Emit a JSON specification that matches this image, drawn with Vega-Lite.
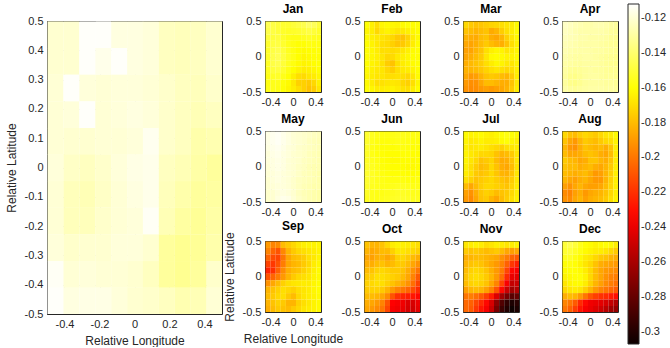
{
"$schema":"https://vega.github.io/schema/vega-lite/v6.json",
"background":"white",
"padding":{"left":4,"top":2,"right":0,"bottom":0},
"config":{
"locale":{"number":{"decimal":".","thousands":",","grouping":[3],"currency":["$",""],"minus":"-"}},
"view":{"stroke":"#262626","strokeWidth":1},
"font":"Liberation Sans",
"axis":{"labelFont":"Liberation Sans","labelFontSize":11,"labelColor":"#262626","titleFont":"Liberation Sans","titleFontSize":12,"titleFontWeight":"normal","titleColor":"#262626","grid":true,"gridColor":"#262626","gridOpacity":0.15,"domain":false,"ticks":true,"tickColor":"#262626","tickSize":-3,"labelPadding":7,"titlePadding":6,"zindex":1,"format":"~g","labelFlush":false,"labelOverlap":false},
"title":{"font":"Liberation Sans","fontSize":12,"fontWeight":"bold","color":"#000000","offset":-1,"frame":"group"},
"legend":{"gradientLength":340,"gradientThickness":11,"gradientStrokeColor":"#262626","gradientStrokeWidth":1,"labelFont":"Liberation Sans","labelFontSize":11,"labelColor":"#262626","labelOffset":4,"padding":0}
},
"datasets":{
"mean":[
{"x":-0.5,"y":0.409,"v":-0.121},{"x":-0.409,"y":0.409,"v":-0.121},{"x":-0.318,"y":0.409,"v":-0.113},{"x":-0.227,"y":0.409,"v":-0.113},{"x":-0.136,"y":0.409,"v":-0.118},{"x":-0.045,"y":0.409,"v":-0.118},{"x":0.045,"y":0.409,"v":-0.119},{"x":0.136,"y":0.409,"v":-0.124},{"x":0.227,"y":0.409,"v":-0.125},{"x":0.318,"y":0.409,"v":-0.124},{"x":0.409,"y":0.409,"v":-0.121},
{"x":-0.5,"y":0.318,"v":-0.121},{"x":-0.409,"y":0.318,"v":-0.121},{"x":-0.318,"y":0.318,"v":-0.113},{"x":-0.227,"y":0.318,"v":-0.116},{"x":-0.136,"y":0.318,"v":-0.113},{"x":-0.045,"y":0.318,"v":-0.118},{"x":0.045,"y":0.318,"v":-0.119},{"x":0.136,"y":0.318,"v":-0.124},{"x":0.227,"y":0.318,"v":-0.125},{"x":0.318,"y":0.318,"v":-0.124},{"x":0.409,"y":0.318,"v":-0.121},
{"x":-0.5,"y":0.227,"v":-0.12},{"x":-0.409,"y":0.227,"v":-0.113},{"x":-0.318,"y":0.227,"v":-0.119},{"x":-0.227,"y":0.227,"v":-0.12},{"x":-0.136,"y":0.227,"v":-0.119},{"x":-0.045,"y":0.227,"v":-0.119},{"x":0.045,"y":0.227,"v":-0.12},{"x":0.136,"y":0.227,"v":-0.122},{"x":0.227,"y":0.227,"v":-0.124},{"x":0.318,"y":0.227,"v":-0.125},{"x":0.409,"y":0.227,"v":-0.122},
{"x":-0.5,"y":0.136,"v":-0.12},{"x":-0.409,"y":0.136,"v":-0.119},{"x":-0.318,"y":0.136,"v":-0.113},{"x":-0.227,"y":0.136,"v":-0.12},{"x":-0.136,"y":0.136,"v":-0.119},{"x":-0.045,"y":0.136,"v":-0.118},{"x":0.045,"y":0.136,"v":-0.119},{"x":0.136,"y":0.136,"v":-0.122},{"x":0.227,"y":0.136,"v":-0.124},{"x":0.318,"y":0.136,"v":-0.126},{"x":0.409,"y":0.136,"v":-0.124},
{"x":-0.5,"y":0.045,"v":-0.12},{"x":-0.409,"y":0.045,"v":-0.121},{"x":-0.318,"y":0.045,"v":-0.121},{"x":-0.227,"y":0.045,"v":-0.12},{"x":-0.136,"y":0.045,"v":-0.12},{"x":-0.045,"y":0.045,"v":-0.119},{"x":0.045,"y":0.045,"v":-0.115},{"x":0.136,"y":0.045,"v":-0.122},{"x":0.227,"y":0.045,"v":-0.124},{"x":0.318,"y":0.045,"v":-0.128},{"x":0.409,"y":0.045,"v":-0.127},
{"x":-0.5,"y":-0.045,"v":-0.119},{"x":-0.409,"y":-0.045,"v":-0.123},{"x":-0.318,"y":-0.045,"v":-0.124},{"x":-0.227,"y":-0.045,"v":-0.122},{"x":-0.136,"y":-0.045,"v":-0.119},{"x":-0.045,"y":-0.045,"v":-0.117},{"x":0.045,"y":-0.045,"v":-0.116},{"x":0.136,"y":-0.045,"v":-0.124},{"x":0.227,"y":-0.045,"v":-0.126},{"x":0.318,"y":-0.045,"v":-0.129},{"x":0.409,"y":-0.045,"v":-0.131},
{"x":-0.5,"y":-0.136,"v":-0.12},{"x":-0.409,"y":-0.136,"v":-0.125},{"x":-0.318,"y":-0.136,"v":-0.126},{"x":-0.227,"y":-0.136,"v":-0.123},{"x":-0.136,"y":-0.136,"v":-0.12},{"x":-0.045,"y":-0.136,"v":-0.118},{"x":0.045,"y":-0.136,"v":-0.116},{"x":0.136,"y":-0.136,"v":-0.125},{"x":0.227,"y":-0.136,"v":-0.128},{"x":0.318,"y":-0.136,"v":-0.131},{"x":0.409,"y":-0.136,"v":-0.13},
{"x":-0.5,"y":-0.227,"v":-0.12},{"x":-0.409,"y":-0.227,"v":-0.125},{"x":-0.318,"y":-0.227,"v":-0.125},{"x":-0.227,"y":-0.227,"v":-0.122},{"x":-0.136,"y":-0.227,"v":-0.12},{"x":-0.045,"y":-0.227,"v":-0.119},{"x":0.045,"y":-0.227,"v":-0.114},{"x":0.136,"y":-0.227,"v":-0.126},{"x":0.227,"y":-0.227,"v":-0.13},{"x":0.318,"y":-0.227,"v":-0.132},{"x":0.409,"y":-0.227,"v":-0.129},
{"x":-0.5,"y":-0.318,"v":-0.119},{"x":-0.409,"y":-0.318,"v":-0.122},{"x":-0.318,"y":-0.318,"v":-0.121},{"x":-0.227,"y":-0.318,"v":-0.121},{"x":-0.136,"y":-0.318,"v":-0.119},{"x":-0.045,"y":-0.318,"v":-0.119},{"x":0.045,"y":-0.318,"v":-0.121},{"x":0.136,"y":-0.318,"v":-0.131},{"x":0.227,"y":-0.318,"v":-0.133},{"x":0.318,"y":-0.318,"v":-0.132},{"x":0.409,"y":-0.318,"v":-0.128},
{"x":-0.5,"y":-0.409,"v":-0.114},{"x":-0.409,"y":-0.409,"v":-0.12},{"x":-0.318,"y":-0.409,"v":-0.119},{"x":-0.227,"y":-0.409,"v":-0.12},{"x":-0.136,"y":-0.409,"v":-0.12},{"x":-0.045,"y":-0.409,"v":-0.121},{"x":0.045,"y":-0.409,"v":-0.124},{"x":0.136,"y":-0.409,"v":-0.131},{"x":0.227,"y":-0.409,"v":-0.133},{"x":0.318,"y":-0.409,"v":-0.131},{"x":0.409,"y":-0.409,"v":-0.122},
{"x":-0.5,"y":-0.5,"v":-0.113},{"x":-0.409,"y":-0.5,"v":-0.118},{"x":-0.318,"y":-0.5,"v":-0.117},{"x":-0.227,"y":-0.5,"v":-0.117},{"x":-0.136,"y":-0.5,"v":-0.119},{"x":-0.045,"y":-0.5,"v":-0.121},{"x":0.045,"y":-0.5,"v":-0.122},{"x":0.136,"y":-0.5,"v":-0.124},{"x":0.227,"y":-0.5,"v":-0.127},{"x":0.318,"y":-0.5,"v":-0.126},{"x":0.409,"y":-0.5,"v":-0.12}
],
"Jan":[
{"x":-0.5,"y":0.409,"v":-0.145},{"x":-0.409,"y":0.409,"v":-0.148},{"x":-0.318,"y":0.409,"v":-0.15},{"x":-0.227,"y":0.409,"v":-0.152},{"x":-0.136,"y":0.409,"v":-0.152},{"x":-0.045,"y":0.409,"v":-0.15},{"x":0.045,"y":0.409,"v":-0.148},{"x":0.136,"y":0.409,"v":-0.146},{"x":0.227,"y":0.409,"v":-0.142},{"x":0.318,"y":0.409,"v":-0.144},{"x":0.409,"y":0.409,"v":-0.15},
{"x":-0.5,"y":0.318,"v":-0.147},{"x":-0.409,"y":0.318,"v":-0.148},{"x":-0.318,"y":0.318,"v":-0.15},{"x":-0.227,"y":0.318,"v":-0.153},{"x":-0.136,"y":0.318,"v":-0.154},{"x":-0.045,"y":0.318,"v":-0.153},{"x":0.045,"y":0.318,"v":-0.152},{"x":0.136,"y":0.318,"v":-0.15},{"x":0.227,"y":0.318,"v":-0.148},{"x":0.318,"y":0.318,"v":-0.15},{"x":0.409,"y":0.318,"v":-0.153},
{"x":-0.5,"y":0.227,"v":-0.15},{"x":-0.409,"y":0.227,"v":-0.15},{"x":-0.318,"y":0.227,"v":-0.149},{"x":-0.227,"y":0.227,"v":-0.153},{"x":-0.136,"y":0.227,"v":-0.156},{"x":-0.045,"y":0.227,"v":-0.157},{"x":0.045,"y":0.227,"v":-0.157},{"x":0.136,"y":0.227,"v":-0.155},{"x":0.227,"y":0.227,"v":-0.154},{"x":0.318,"y":0.227,"v":-0.155},{"x":0.409,"y":0.227,"v":-0.156},
{"x":-0.5,"y":0.136,"v":-0.152},{"x":-0.409,"y":0.136,"v":-0.149},{"x":-0.318,"y":0.136,"v":-0.148},{"x":-0.227,"y":0.136,"v":-0.152},{"x":-0.136,"y":0.136,"v":-0.156},{"x":-0.045,"y":0.136,"v":-0.158},{"x":0.045,"y":0.136,"v":-0.16},{"x":0.136,"y":0.136,"v":-0.16},{"x":0.227,"y":0.136,"v":-0.158},{"x":0.318,"y":0.136,"v":-0.158},{"x":0.409,"y":0.136,"v":-0.158},
{"x":-0.5,"y":0.045,"v":-0.153},{"x":-0.409,"y":0.045,"v":-0.148},{"x":-0.318,"y":0.045,"v":-0.146},{"x":-0.227,"y":0.045,"v":-0.15},{"x":-0.136,"y":0.045,"v":-0.155},{"x":-0.045,"y":0.045,"v":-0.158},{"x":0.045,"y":0.045,"v":-0.161},{"x":0.136,"y":0.045,"v":-0.162},{"x":0.227,"y":0.045,"v":-0.161},{"x":0.318,"y":0.045,"v":-0.16},{"x":0.409,"y":0.045,"v":-0.159},
{"x":-0.5,"y":-0.045,"v":-0.153},{"x":-0.409,"y":-0.045,"v":-0.147},{"x":-0.318,"y":-0.045,"v":-0.145},{"x":-0.227,"y":-0.045,"v":-0.149},{"x":-0.136,"y":-0.045,"v":-0.154},{"x":-0.045,"y":-0.045,"v":-0.157},{"x":0.045,"y":-0.045,"v":-0.161},{"x":0.136,"y":-0.045,"v":-0.163},{"x":0.227,"y":-0.045,"v":-0.162},{"x":0.318,"y":-0.045,"v":-0.16},{"x":0.409,"y":-0.045,"v":-0.16},
{"x":-0.5,"y":-0.136,"v":-0.154},{"x":-0.409,"y":-0.136,"v":-0.148},{"x":-0.318,"y":-0.136,"v":-0.146},{"x":-0.227,"y":-0.136,"v":-0.15},{"x":-0.136,"y":-0.136,"v":-0.155},{"x":-0.045,"y":-0.136,"v":-0.158},{"x":0.045,"y":-0.136,"v":-0.162},{"x":0.136,"y":-0.136,"v":-0.164},{"x":0.227,"y":-0.136,"v":-0.163},{"x":0.318,"y":-0.136,"v":-0.161},{"x":0.409,"y":-0.136,"v":-0.16},
{"x":-0.5,"y":-0.227,"v":-0.155},{"x":-0.409,"y":-0.227,"v":-0.15},{"x":-0.318,"y":-0.227,"v":-0.149},{"x":-0.227,"y":-0.227,"v":-0.152},{"x":-0.136,"y":-0.227,"v":-0.157},{"x":-0.045,"y":-0.227,"v":-0.161},{"x":0.045,"y":-0.227,"v":-0.164},{"x":0.136,"y":-0.227,"v":-0.166},{"x":0.227,"y":-0.227,"v":-0.165},{"x":0.318,"y":-0.227,"v":-0.163},{"x":0.409,"y":-0.227,"v":-0.161},
{"x":-0.5,"y":-0.318,"v":-0.157},{"x":-0.409,"y":-0.318,"v":-0.154},{"x":-0.318,"y":-0.318,"v":-0.153},{"x":-0.227,"y":-0.318,"v":-0.156},{"x":-0.136,"y":-0.318,"v":-0.16},{"x":-0.045,"y":-0.318,"v":-0.165},{"x":0.045,"y":-0.318,"v":-0.17},{"x":0.136,"y":-0.318,"v":-0.171},{"x":0.227,"y":-0.318,"v":-0.168},{"x":0.318,"y":-0.318,"v":-0.166},{"x":0.409,"y":-0.318,"v":-0.163},
{"x":-0.5,"y":-0.409,"v":-0.158},{"x":-0.409,"y":-0.409,"v":-0.156},{"x":-0.318,"y":-0.409,"v":-0.156},{"x":-0.227,"y":-0.409,"v":-0.159},{"x":-0.136,"y":-0.409,"v":-0.162},{"x":-0.045,"y":-0.409,"v":-0.167},{"x":0.045,"y":-0.409,"v":-0.174},{"x":0.136,"y":-0.409,"v":-0.174},{"x":0.227,"y":-0.409,"v":-0.176},{"x":0.318,"y":-0.409,"v":-0.172},{"x":0.409,"y":-0.409,"v":-0.165},
{"x":-0.5,"y":-0.5,"v":-0.157},{"x":-0.409,"y":-0.5,"v":-0.156},{"x":-0.318,"y":-0.5,"v":-0.157},{"x":-0.227,"y":-0.5,"v":-0.16},{"x":-0.136,"y":-0.5,"v":-0.163},{"x":-0.045,"y":-0.5,"v":-0.166},{"x":0.045,"y":-0.5,"v":-0.17},{"x":0.136,"y":-0.5,"v":-0.174},{"x":0.227,"y":-0.5,"v":-0.178},{"x":0.318,"y":-0.5,"v":-0.175},{"x":0.409,"y":-0.5,"v":-0.168}
],
"Feb":[
{"x":-0.5,"y":0.409,"v":-0.16},{"x":-0.409,"y":0.409,"v":-0.165},{"x":-0.318,"y":0.409,"v":-0.17},{"x":-0.227,"y":0.409,"v":-0.163},{"x":-0.136,"y":0.409,"v":-0.162},{"x":-0.045,"y":0.409,"v":-0.163},{"x":0.045,"y":0.409,"v":-0.164},{"x":0.136,"y":0.409,"v":-0.162},{"x":0.227,"y":0.409,"v":-0.16},{"x":0.318,"y":0.409,"v":-0.161},{"x":0.409,"y":0.409,"v":-0.16},
{"x":-0.5,"y":0.318,"v":-0.163},{"x":-0.409,"y":0.318,"v":-0.166},{"x":-0.318,"y":0.318,"v":-0.172},{"x":-0.227,"y":0.318,"v":-0.166},{"x":-0.136,"y":0.318,"v":-0.164},{"x":-0.045,"y":0.318,"v":-0.166},{"x":0.045,"y":0.318,"v":-0.168},{"x":0.136,"y":0.318,"v":-0.167},{"x":0.227,"y":0.318,"v":-0.165},{"x":0.318,"y":0.318,"v":-0.163},{"x":0.409,"y":0.318,"v":-0.161},
{"x":-0.5,"y":0.227,"v":-0.162},{"x":-0.409,"y":0.227,"v":-0.165},{"x":-0.318,"y":0.227,"v":-0.167},{"x":-0.227,"y":0.227,"v":-0.168},{"x":-0.136,"y":0.227,"v":-0.17},{"x":-0.045,"y":0.227,"v":-0.172},{"x":0.045,"y":0.227,"v":-0.176},{"x":0.136,"y":0.227,"v":-0.178},{"x":0.227,"y":0.227,"v":-0.173},{"x":0.318,"y":0.227,"v":-0.166},{"x":0.409,"y":0.227,"v":-0.162},
{"x":-0.5,"y":0.136,"v":-0.161},{"x":-0.409,"y":0.136,"v":-0.164},{"x":-0.318,"y":0.136,"v":-0.167},{"x":-0.227,"y":0.136,"v":-0.17},{"x":-0.136,"y":0.136,"v":-0.171},{"x":-0.045,"y":0.136,"v":-0.174},{"x":0.045,"y":0.136,"v":-0.177},{"x":0.136,"y":0.136,"v":-0.176},{"x":0.227,"y":0.136,"v":-0.172},{"x":0.318,"y":0.136,"v":-0.166},{"x":0.409,"y":0.136,"v":-0.161},
{"x":-0.5,"y":0.045,"v":-0.16},{"x":-0.409,"y":0.045,"v":-0.163},{"x":-0.318,"y":0.045,"v":-0.166},{"x":-0.227,"y":0.045,"v":-0.17},{"x":-0.136,"y":0.045,"v":-0.17},{"x":-0.045,"y":0.045,"v":-0.171},{"x":0.045,"y":0.045,"v":-0.17},{"x":0.136,"y":0.045,"v":-0.168},{"x":0.227,"y":0.045,"v":-0.165},{"x":0.318,"y":0.045,"v":-0.162},{"x":0.409,"y":0.045,"v":-0.16},
{"x":-0.5,"y":-0.045,"v":-0.16},{"x":-0.409,"y":-0.045,"v":-0.163},{"x":-0.318,"y":-0.045,"v":-0.165},{"x":-0.227,"y":-0.045,"v":-0.168},{"x":-0.136,"y":-0.045,"v":-0.172},{"x":-0.045,"y":-0.045,"v":-0.171},{"x":0.045,"y":-0.045,"v":-0.167},{"x":0.136,"y":-0.045,"v":-0.165},{"x":0.227,"y":-0.045,"v":-0.163},{"x":0.318,"y":-0.045,"v":-0.161},{"x":0.409,"y":-0.045,"v":-0.16},
{"x":-0.5,"y":-0.136,"v":-0.161},{"x":-0.409,"y":-0.136,"v":-0.164},{"x":-0.318,"y":-0.136,"v":-0.166},{"x":-0.227,"y":-0.136,"v":-0.169},{"x":-0.136,"y":-0.136,"v":-0.175},{"x":-0.045,"y":-0.136,"v":-0.178},{"x":0.045,"y":-0.136,"v":-0.17},{"x":0.136,"y":-0.136,"v":-0.166},{"x":0.227,"y":-0.136,"v":-0.164},{"x":0.318,"y":-0.136,"v":-0.162},{"x":0.409,"y":-0.136,"v":-0.16},
{"x":-0.5,"y":-0.227,"v":-0.162},{"x":-0.409,"y":-0.227,"v":-0.165},{"x":-0.318,"y":-0.227,"v":-0.167},{"x":-0.227,"y":-0.227,"v":-0.168},{"x":-0.136,"y":-0.227,"v":-0.172},{"x":-0.045,"y":-0.227,"v":-0.175},{"x":0.045,"y":-0.227,"v":-0.17},{"x":0.136,"y":-0.227,"v":-0.167},{"x":0.227,"y":-0.227,"v":-0.166},{"x":0.318,"y":-0.227,"v":-0.164},{"x":0.409,"y":-0.227,"v":-0.161},
{"x":-0.5,"y":-0.318,"v":-0.163},{"x":-0.409,"y":-0.318,"v":-0.166},{"x":-0.318,"y":-0.318,"v":-0.168},{"x":-0.227,"y":-0.318,"v":-0.168},{"x":-0.136,"y":-0.318,"v":-0.17},{"x":-0.045,"y":-0.318,"v":-0.17},{"x":0.045,"y":-0.318,"v":-0.169},{"x":0.136,"y":-0.318,"v":-0.17},{"x":0.227,"y":-0.318,"v":-0.172},{"x":0.318,"y":-0.318,"v":-0.168},{"x":0.409,"y":-0.318,"v":-0.162},
{"x":-0.5,"y":-0.409,"v":-0.162},{"x":-0.409,"y":-0.409,"v":-0.166},{"x":-0.318,"y":-0.409,"v":-0.17},{"x":-0.227,"y":-0.409,"v":-0.169},{"x":-0.136,"y":-0.409,"v":-0.168},{"x":-0.045,"y":-0.409,"v":-0.167},{"x":0.045,"y":-0.409,"v":-0.168},{"x":0.136,"y":-0.409,"v":-0.172},{"x":0.227,"y":-0.409,"v":-0.174},{"x":0.318,"y":-0.409,"v":-0.17},{"x":0.409,"y":-0.409,"v":-0.163},
{"x":-0.5,"y":-0.5,"v":-0.16},{"x":-0.409,"y":-0.5,"v":-0.163},{"x":-0.318,"y":-0.5,"v":-0.166},{"x":-0.227,"y":-0.5,"v":-0.166},{"x":-0.136,"y":-0.5,"v":-0.165},{"x":-0.045,"y":-0.5,"v":-0.164},{"x":0.045,"y":-0.5,"v":-0.166},{"x":0.136,"y":-0.5,"v":-0.169},{"x":0.227,"y":-0.5,"v":-0.17},{"x":0.318,"y":-0.5,"v":-0.166},{"x":0.409,"y":-0.5,"v":-0.161}
],
"Mar":[
{"x":-0.5,"y":0.409,"v":-0.172},{"x":-0.409,"y":0.409,"v":-0.176},{"x":-0.318,"y":0.409,"v":-0.178},{"x":-0.227,"y":0.409,"v":-0.177},{"x":-0.136,"y":0.409,"v":-0.175},{"x":-0.045,"y":0.409,"v":-0.173},{"x":0.045,"y":0.409,"v":-0.172},{"x":0.136,"y":0.409,"v":-0.17},{"x":0.227,"y":0.409,"v":-0.168},{"x":0.318,"y":0.409,"v":-0.166},{"x":0.409,"y":0.409,"v":-0.162},
{"x":-0.5,"y":0.318,"v":-0.178},{"x":-0.409,"y":0.318,"v":-0.18},{"x":-0.318,"y":0.318,"v":-0.182},{"x":-0.227,"y":0.318,"v":-0.18},{"x":-0.136,"y":0.318,"v":-0.178},{"x":-0.045,"y":0.318,"v":-0.185},{"x":0.045,"y":0.318,"v":-0.182},{"x":0.136,"y":0.318,"v":-0.175},{"x":0.227,"y":0.318,"v":-0.17},{"x":0.318,"y":0.318,"v":-0.166},{"x":0.409,"y":0.318,"v":-0.162},
{"x":-0.5,"y":0.227,"v":-0.183},{"x":-0.409,"y":0.227,"v":-0.184},{"x":-0.318,"y":0.227,"v":-0.185},{"x":-0.227,"y":0.227,"v":-0.18},{"x":-0.136,"y":0.227,"v":-0.178},{"x":-0.045,"y":0.227,"v":-0.184},{"x":0.045,"y":0.227,"v":-0.186},{"x":0.136,"y":0.227,"v":-0.182},{"x":0.227,"y":0.227,"v":-0.174},{"x":0.318,"y":0.227,"v":-0.168},{"x":0.409,"y":0.227,"v":-0.163},
{"x":-0.5,"y":0.136,"v":-0.186},{"x":-0.409,"y":0.136,"v":-0.187},{"x":-0.318,"y":0.136,"v":-0.184},{"x":-0.227,"y":0.136,"v":-0.18},{"x":-0.136,"y":0.136,"v":-0.176},{"x":-0.045,"y":0.136,"v":-0.18},{"x":0.045,"y":0.136,"v":-0.183},{"x":0.136,"y":0.136,"v":-0.184},{"x":0.227,"y":0.136,"v":-0.178},{"x":0.318,"y":0.136,"v":-0.17},{"x":0.409,"y":0.136,"v":-0.164},
{"x":-0.5,"y":0.045,"v":-0.188},{"x":-0.409,"y":0.045,"v":-0.187},{"x":-0.318,"y":0.045,"v":-0.182},{"x":-0.227,"y":0.045,"v":-0.178},{"x":-0.136,"y":0.045,"v":-0.17},{"x":-0.045,"y":0.045,"v":-0.165},{"x":0.045,"y":0.045,"v":-0.163},{"x":0.136,"y":0.045,"v":-0.164},{"x":0.227,"y":0.045,"v":-0.168},{"x":0.318,"y":0.045,"v":-0.166},{"x":0.409,"y":0.045,"v":-0.163},
{"x":-0.5,"y":-0.045,"v":-0.187},{"x":-0.409,"y":-0.045,"v":-0.184},{"x":-0.318,"y":-0.045,"v":-0.18},{"x":-0.227,"y":-0.045,"v":-0.176},{"x":-0.136,"y":-0.045,"v":-0.168},{"x":-0.045,"y":-0.045,"v":-0.162},{"x":0.045,"y":-0.045,"v":-0.161},{"x":0.136,"y":-0.045,"v":-0.162},{"x":0.227,"y":-0.045,"v":-0.164},{"x":0.318,"y":-0.045,"v":-0.164},{"x":0.409,"y":-0.045,"v":-0.162},
{"x":-0.5,"y":-0.136,"v":-0.184},{"x":-0.409,"y":-0.136,"v":-0.181},{"x":-0.318,"y":-0.136,"v":-0.178},{"x":-0.227,"y":-0.136,"v":-0.175},{"x":-0.136,"y":-0.136,"v":-0.17},{"x":-0.045,"y":-0.136,"v":-0.166},{"x":0.045,"y":-0.136,"v":-0.163},{"x":0.136,"y":-0.136,"v":-0.164},{"x":0.227,"y":-0.136,"v":-0.167},{"x":0.318,"y":-0.136,"v":-0.168},{"x":0.409,"y":-0.136,"v":-0.164},
{"x":-0.5,"y":-0.227,"v":-0.183},{"x":-0.409,"y":-0.227,"v":-0.182},{"x":-0.318,"y":-0.227,"v":-0.18},{"x":-0.227,"y":-0.227,"v":-0.177},{"x":-0.136,"y":-0.227,"v":-0.173},{"x":-0.045,"y":-0.227,"v":-0.17},{"x":0.045,"y":-0.227,"v":-0.168},{"x":0.136,"y":-0.227,"v":-0.17},{"x":0.227,"y":-0.227,"v":-0.172},{"x":0.318,"y":-0.227,"v":-0.17},{"x":0.409,"y":-0.227,"v":-0.165},
{"x":-0.5,"y":-0.318,"v":-0.186},{"x":-0.409,"y":-0.318,"v":-0.19},{"x":-0.318,"y":-0.318,"v":-0.188},{"x":-0.227,"y":-0.318,"v":-0.183},{"x":-0.136,"y":-0.318,"v":-0.178},{"x":-0.045,"y":-0.318,"v":-0.176},{"x":0.045,"y":-0.318,"v":-0.177},{"x":0.136,"y":-0.318,"v":-0.18},{"x":0.227,"y":-0.318,"v":-0.182},{"x":0.318,"y":-0.318,"v":-0.176},{"x":0.409,"y":-0.318,"v":-0.166},
{"x":-0.5,"y":-0.409,"v":-0.19},{"x":-0.409,"y":-0.409,"v":-0.193},{"x":-0.318,"y":-0.409,"v":-0.192},{"x":-0.227,"y":-0.409,"v":-0.186},{"x":-0.136,"y":-0.409,"v":-0.18},{"x":-0.045,"y":-0.409,"v":-0.18},{"x":0.045,"y":-0.409,"v":-0.182},{"x":0.136,"y":-0.409,"v":-0.184},{"x":0.227,"y":-0.409,"v":-0.184},{"x":0.318,"y":-0.409,"v":-0.178},{"x":0.409,"y":-0.409,"v":-0.167},
{"x":-0.5,"y":-0.5,"v":-0.192},{"x":-0.409,"y":-0.5,"v":-0.194},{"x":-0.318,"y":-0.5,"v":-0.193},{"x":-0.227,"y":-0.5,"v":-0.19},{"x":-0.136,"y":-0.5,"v":-0.188},{"x":-0.045,"y":-0.5,"v":-0.19},{"x":0.045,"y":-0.5,"v":-0.188},{"x":0.136,"y":-0.5,"v":-0.186},{"x":0.227,"y":-0.5,"v":-0.183},{"x":0.318,"y":-0.5,"v":-0.176},{"x":0.409,"y":-0.5,"v":-0.166}
],
"Apr":[
{"x":-0.5,"y":0.409,"v":-0.123},{"x":-0.409,"y":0.409,"v":-0.124},{"x":-0.318,"y":0.409,"v":-0.126},{"x":-0.227,"y":0.409,"v":-0.127},{"x":-0.136,"y":0.409,"v":-0.128},{"x":-0.045,"y":0.409,"v":-0.128},{"x":0.045,"y":0.409,"v":-0.127},{"x":0.136,"y":0.409,"v":-0.127},{"x":0.227,"y":0.409,"v":-0.128},{"x":0.318,"y":0.409,"v":-0.13},{"x":0.409,"y":0.409,"v":-0.131},
{"x":-0.5,"y":0.318,"v":-0.124},{"x":-0.409,"y":0.318,"v":-0.125},{"x":-0.318,"y":0.318,"v":-0.127},{"x":-0.227,"y":0.318,"v":-0.128},{"x":-0.136,"y":0.318,"v":-0.128},{"x":-0.045,"y":0.318,"v":-0.128},{"x":0.045,"y":0.318,"v":-0.128},{"x":0.136,"y":0.318,"v":-0.128},{"x":0.227,"y":0.318,"v":-0.129},{"x":0.318,"y":0.318,"v":-0.131},{"x":0.409,"y":0.318,"v":-0.132},
{"x":-0.5,"y":0.227,"v":-0.125},{"x":-0.409,"y":0.227,"v":-0.126},{"x":-0.318,"y":0.227,"v":-0.127},{"x":-0.227,"y":0.227,"v":-0.128},{"x":-0.136,"y":0.227,"v":-0.128},{"x":-0.045,"y":0.227,"v":-0.129},{"x":0.045,"y":0.227,"v":-0.129},{"x":0.136,"y":0.227,"v":-0.129},{"x":0.227,"y":0.227,"v":-0.13},{"x":0.318,"y":0.227,"v":-0.132},{"x":0.409,"y":0.227,"v":-0.133},
{"x":-0.5,"y":0.136,"v":-0.126},{"x":-0.409,"y":0.136,"v":-0.127},{"x":-0.318,"y":0.136,"v":-0.128},{"x":-0.227,"y":0.136,"v":-0.129},{"x":-0.136,"y":0.136,"v":-0.129},{"x":-0.045,"y":0.136,"v":-0.129},{"x":0.045,"y":0.136,"v":-0.129},{"x":0.136,"y":0.136,"v":-0.13},{"x":0.227,"y":0.136,"v":-0.131},{"x":0.318,"y":0.136,"v":-0.132},{"x":0.409,"y":0.136,"v":-0.133},
{"x":-0.5,"y":0.045,"v":-0.127},{"x":-0.409,"y":0.045,"v":-0.128},{"x":-0.318,"y":0.045,"v":-0.129},{"x":-0.227,"y":0.045,"v":-0.129},{"x":-0.136,"y":0.045,"v":-0.129},{"x":-0.045,"y":0.045,"v":-0.129},{"x":0.045,"y":0.045,"v":-0.13},{"x":0.136,"y":0.045,"v":-0.13},{"x":0.227,"y":0.045,"v":-0.131},{"x":0.318,"y":0.045,"v":-0.132},{"x":0.409,"y":0.045,"v":-0.133},
{"x":-0.5,"y":-0.045,"v":-0.128},{"x":-0.409,"y":-0.045,"v":-0.129},{"x":-0.318,"y":-0.045,"v":-0.13},{"x":-0.227,"y":-0.045,"v":-0.13},{"x":-0.136,"y":-0.045,"v":-0.129},{"x":-0.045,"y":-0.045,"v":-0.129},{"x":0.045,"y":-0.045,"v":-0.13},{"x":0.136,"y":-0.045,"v":-0.131},{"x":0.227,"y":-0.045,"v":-0.132},{"x":0.318,"y":-0.045,"v":-0.133},{"x":0.409,"y":-0.045,"v":-0.134},
{"x":-0.5,"y":-0.136,"v":-0.129},{"x":-0.409,"y":-0.136,"v":-0.13},{"x":-0.318,"y":-0.136,"v":-0.131},{"x":-0.227,"y":-0.136,"v":-0.131},{"x":-0.136,"y":-0.136,"v":-0.13},{"x":-0.045,"y":-0.136,"v":-0.13},{"x":0.045,"y":-0.136,"v":-0.13},{"x":0.136,"y":-0.136,"v":-0.131},{"x":0.227,"y":-0.136,"v":-0.132},{"x":0.318,"y":-0.136,"v":-0.133},{"x":0.409,"y":-0.136,"v":-0.134},
{"x":-0.5,"y":-0.227,"v":-0.13},{"x":-0.409,"y":-0.227,"v":-0.132},{"x":-0.318,"y":-0.227,"v":-0.133},{"x":-0.227,"y":-0.227,"v":-0.132},{"x":-0.136,"y":-0.227,"v":-0.131},{"x":-0.045,"y":-0.227,"v":-0.13},{"x":0.045,"y":-0.227,"v":-0.131},{"x":0.136,"y":-0.227,"v":-0.131},{"x":0.227,"y":-0.227,"v":-0.132},{"x":0.318,"y":-0.227,"v":-0.133},{"x":0.409,"y":-0.227,"v":-0.133},
{"x":-0.5,"y":-0.318,"v":-0.131},{"x":-0.409,"y":-0.318,"v":-0.134},{"x":-0.318,"y":-0.318,"v":-0.135},{"x":-0.227,"y":-0.318,"v":-0.133},{"x":-0.136,"y":-0.318,"v":-0.131},{"x":-0.045,"y":-0.318,"v":-0.13},{"x":0.045,"y":-0.318,"v":-0.13},{"x":0.136,"y":-0.318,"v":-0.131},{"x":0.227,"y":-0.318,"v":-0.132},{"x":0.318,"y":-0.318,"v":-0.132},{"x":0.409,"y":-0.318,"v":-0.133},
{"x":-0.5,"y":-0.409,"v":-0.131},{"x":-0.409,"y":-0.409,"v":-0.134},{"x":-0.318,"y":-0.409,"v":-0.135},{"x":-0.227,"y":-0.409,"v":-0.133},{"x":-0.136,"y":-0.409,"v":-0.131},{"x":-0.045,"y":-0.409,"v":-0.13},{"x":0.045,"y":-0.409,"v":-0.13},{"x":0.136,"y":-0.409,"v":-0.13},{"x":0.227,"y":-0.409,"v":-0.131},{"x":0.318,"y":-0.409,"v":-0.131},{"x":0.409,"y":-0.409,"v":-0.132},
{"x":-0.5,"y":-0.5,"v":-0.129},{"x":-0.409,"y":-0.5,"v":-0.131},{"x":-0.318,"y":-0.5,"v":-0.132},{"x":-0.227,"y":-0.5,"v":-0.131},{"x":-0.136,"y":-0.5,"v":-0.13},{"x":-0.045,"y":-0.5,"v":-0.129},{"x":0.045,"y":-0.5,"v":-0.129},{"x":0.136,"y":-0.5,"v":-0.129},{"x":0.227,"y":-0.5,"v":-0.13},{"x":0.318,"y":-0.5,"v":-0.13},{"x":0.409,"y":-0.5,"v":-0.131}
],
"May":[
{"x":-0.5,"y":0.409,"v":-0.117},{"x":-0.409,"y":0.409,"v":-0.115},{"x":-0.318,"y":0.409,"v":-0.114},{"x":-0.227,"y":0.409,"v":-0.116},{"x":-0.136,"y":0.409,"v":-0.118},{"x":-0.045,"y":0.409,"v":-0.12},{"x":0.045,"y":0.409,"v":-0.121},{"x":0.136,"y":0.409,"v":-0.122},{"x":0.227,"y":0.409,"v":-0.123},{"x":0.318,"y":0.409,"v":-0.124},{"x":0.409,"y":0.409,"v":-0.125},
{"x":-0.5,"y":0.318,"v":-0.117},{"x":-0.409,"y":0.318,"v":-0.115},{"x":-0.318,"y":0.318,"v":-0.114},{"x":-0.227,"y":0.318,"v":-0.116},{"x":-0.136,"y":0.318,"v":-0.118},{"x":-0.045,"y":0.318,"v":-0.12},{"x":0.045,"y":0.318,"v":-0.121},{"x":0.136,"y":0.318,"v":-0.122},{"x":0.227,"y":0.318,"v":-0.124},{"x":0.318,"y":0.318,"v":-0.125},{"x":0.409,"y":0.318,"v":-0.126},
{"x":-0.5,"y":0.227,"v":-0.118},{"x":-0.409,"y":0.227,"v":-0.116},{"x":-0.318,"y":0.227,"v":-0.115},{"x":-0.227,"y":0.227,"v":-0.117},{"x":-0.136,"y":0.227,"v":-0.119},{"x":-0.045,"y":0.227,"v":-0.12},{"x":0.045,"y":0.227,"v":-0.122},{"x":0.136,"y":0.227,"v":-0.123},{"x":0.227,"y":0.227,"v":-0.124},{"x":0.318,"y":0.227,"v":-0.125},{"x":0.409,"y":0.227,"v":-0.126},
{"x":-0.5,"y":0.136,"v":-0.119},{"x":-0.409,"y":0.136,"v":-0.117},{"x":-0.318,"y":0.136,"v":-0.116},{"x":-0.227,"y":0.136,"v":-0.118},{"x":-0.136,"y":0.136,"v":-0.119},{"x":-0.045,"y":0.136,"v":-0.121},{"x":0.045,"y":0.136,"v":-0.122},{"x":0.136,"y":0.136,"v":-0.123},{"x":0.227,"y":0.136,"v":-0.125},{"x":0.318,"y":0.136,"v":-0.126},{"x":0.409,"y":0.136,"v":-0.127},
{"x":-0.5,"y":0.045,"v":-0.119},{"x":-0.409,"y":0.045,"v":-0.118},{"x":-0.318,"y":0.045,"v":-0.117},{"x":-0.227,"y":0.045,"v":-0.118},{"x":-0.136,"y":0.045,"v":-0.12},{"x":-0.045,"y":0.045,"v":-0.121},{"x":0.045,"y":0.045,"v":-0.122},{"x":0.136,"y":0.045,"v":-0.124},{"x":0.227,"y":0.045,"v":-0.125},{"x":0.318,"y":0.045,"v":-0.126},{"x":0.409,"y":0.045,"v":-0.127},
{"x":-0.5,"y":-0.045,"v":-0.12},{"x":-0.409,"y":-0.045,"v":-0.118},{"x":-0.318,"y":-0.045,"v":-0.117},{"x":-0.227,"y":-0.045,"v":-0.118},{"x":-0.136,"y":-0.045,"v":-0.12},{"x":-0.045,"y":-0.045,"v":-0.121},{"x":0.045,"y":-0.045,"v":-0.123},{"x":0.136,"y":-0.045,"v":-0.124},{"x":0.227,"y":-0.045,"v":-0.126},{"x":0.318,"y":-0.045,"v":-0.127},{"x":0.409,"y":-0.045,"v":-0.127},
{"x":-0.5,"y":-0.136,"v":-0.12},{"x":-0.409,"y":-0.136,"v":-0.119},{"x":-0.318,"y":-0.136,"v":-0.118},{"x":-0.227,"y":-0.136,"v":-0.119},{"x":-0.136,"y":-0.136,"v":-0.12},{"x":-0.045,"y":-0.136,"v":-0.121},{"x":0.045,"y":-0.136,"v":-0.123},{"x":0.136,"y":-0.136,"v":-0.125},{"x":0.227,"y":-0.136,"v":-0.126},{"x":0.318,"y":-0.136,"v":-0.127},{"x":0.409,"y":-0.136,"v":-0.128},
{"x":-0.5,"y":-0.227,"v":-0.121},{"x":-0.409,"y":-0.227,"v":-0.119},{"x":-0.318,"y":-0.227,"v":-0.118},{"x":-0.227,"y":-0.227,"v":-0.119},{"x":-0.136,"y":-0.227,"v":-0.12},{"x":-0.045,"y":-0.227,"v":-0.122},{"x":0.045,"y":-0.227,"v":-0.124},{"x":0.136,"y":-0.227,"v":-0.125},{"x":0.227,"y":-0.227,"v":-0.126},{"x":0.318,"y":-0.227,"v":-0.127},{"x":0.409,"y":-0.227,"v":-0.128},
{"x":-0.5,"y":-0.318,"v":-0.121},{"x":-0.409,"y":-0.318,"v":-0.12},{"x":-0.318,"y":-0.318,"v":-0.119},{"x":-0.227,"y":-0.318,"v":-0.119},{"x":-0.136,"y":-0.318,"v":-0.12},{"x":-0.045,"y":-0.318,"v":-0.122},{"x":0.045,"y":-0.318,"v":-0.124},{"x":0.136,"y":-0.318,"v":-0.126},{"x":0.227,"y":-0.318,"v":-0.127},{"x":0.318,"y":-0.318,"v":-0.128},{"x":0.409,"y":-0.318,"v":-0.128},
{"x":-0.5,"y":-0.409,"v":-0.122},{"x":-0.409,"y":-0.409,"v":-0.121},{"x":-0.318,"y":-0.409,"v":-0.119},{"x":-0.227,"y":-0.409,"v":-0.118},{"x":-0.136,"y":-0.409,"v":-0.119},{"x":-0.045,"y":-0.409,"v":-0.121},{"x":0.045,"y":-0.409,"v":-0.124},{"x":0.136,"y":-0.409,"v":-0.126},{"x":0.227,"y":-0.409,"v":-0.127},{"x":0.318,"y":-0.409,"v":-0.128},{"x":0.409,"y":-0.409,"v":-0.129},
{"x":-0.5,"y":-0.5,"v":-0.122},{"x":-0.409,"y":-0.5,"v":-0.121},{"x":-0.318,"y":-0.5,"v":-0.118},{"x":-0.227,"y":-0.5,"v":-0.116},{"x":-0.136,"y":-0.5,"v":-0.117},{"x":-0.045,"y":-0.5,"v":-0.12},{"x":0.045,"y":-0.5,"v":-0.123},{"x":0.136,"y":-0.5,"v":-0.125},{"x":0.227,"y":-0.5,"v":-0.127},{"x":0.318,"y":-0.5,"v":-0.128},{"x":0.409,"y":-0.5,"v":-0.129}
],
"Jun":[
{"x":-0.5,"y":0.409,"v":-0.152},{"x":-0.409,"y":0.409,"v":-0.155},{"x":-0.318,"y":0.409,"v":-0.157},{"x":-0.227,"y":0.409,"v":-0.158},{"x":-0.136,"y":0.409,"v":-0.158},{"x":-0.045,"y":0.409,"v":-0.157},{"x":0.045,"y":0.409,"v":-0.156},{"x":0.136,"y":0.409,"v":-0.156},{"x":0.227,"y":0.409,"v":-0.157},{"x":0.318,"y":0.409,"v":-0.158},{"x":0.409,"y":0.409,"v":-0.158},
{"x":-0.5,"y":0.318,"v":-0.153},{"x":-0.409,"y":0.318,"v":-0.156},{"x":-0.318,"y":0.318,"v":-0.158},{"x":-0.227,"y":0.318,"v":-0.159},{"x":-0.136,"y":0.318,"v":-0.159},{"x":-0.045,"y":0.318,"v":-0.158},{"x":0.045,"y":0.318,"v":-0.157},{"x":0.136,"y":0.318,"v":-0.157},{"x":0.227,"y":0.318,"v":-0.158},{"x":0.318,"y":0.318,"v":-0.159},{"x":0.409,"y":0.318,"v":-0.159},
{"x":-0.5,"y":0.227,"v":-0.154},{"x":-0.409,"y":0.227,"v":-0.157},{"x":-0.318,"y":0.227,"v":-0.159},{"x":-0.227,"y":0.227,"v":-0.16},{"x":-0.136,"y":0.227,"v":-0.16},{"x":-0.045,"y":0.227,"v":-0.16},{"x":0.045,"y":0.227,"v":-0.159},{"x":0.136,"y":0.227,"v":-0.158},{"x":0.227,"y":0.227,"v":-0.159},{"x":0.318,"y":0.227,"v":-0.16},{"x":0.409,"y":0.227,"v":-0.16},
{"x":-0.5,"y":0.136,"v":-0.154},{"x":-0.409,"y":0.136,"v":-0.157},{"x":-0.318,"y":0.136,"v":-0.159},{"x":-0.227,"y":0.136,"v":-0.16},{"x":-0.136,"y":0.136,"v":-0.161},{"x":-0.045,"y":0.136,"v":-0.161},{"x":0.045,"y":0.136,"v":-0.161},{"x":0.136,"y":0.136,"v":-0.16},{"x":0.227,"y":0.136,"v":-0.16},{"x":0.318,"y":0.136,"v":-0.161},{"x":0.409,"y":0.136,"v":-0.161},
{"x":-0.5,"y":0.045,"v":-0.154},{"x":-0.409,"y":0.045,"v":-0.156},{"x":-0.318,"y":0.045,"v":-0.158},{"x":-0.227,"y":0.045,"v":-0.16},{"x":-0.136,"y":0.045,"v":-0.161},{"x":-0.045,"y":0.045,"v":-0.162},{"x":0.045,"y":0.045,"v":-0.162},{"x":0.136,"y":0.045,"v":-0.161},{"x":0.227,"y":0.045,"v":-0.161},{"x":0.318,"y":0.045,"v":-0.162},{"x":0.409,"y":0.045,"v":-0.161},
{"x":-0.5,"y":-0.045,"v":-0.153},{"x":-0.409,"y":-0.045,"v":-0.155},{"x":-0.318,"y":-0.045,"v":-0.157},{"x":-0.227,"y":-0.045,"v":-0.159},{"x":-0.136,"y":-0.045,"v":-0.16},{"x":-0.045,"y":-0.045,"v":-0.161},{"x":0.045,"y":-0.045,"v":-0.161},{"x":0.136,"y":-0.045,"v":-0.161},{"x":0.227,"y":-0.045,"v":-0.162},{"x":0.318,"y":-0.045,"v":-0.162},{"x":0.409,"y":-0.045,"v":-0.161},
{"x":-0.5,"y":-0.136,"v":-0.152},{"x":-0.409,"y":-0.136,"v":-0.154},{"x":-0.318,"y":-0.136,"v":-0.156},{"x":-0.227,"y":-0.136,"v":-0.158},{"x":-0.136,"y":-0.136,"v":-0.159},{"x":-0.045,"y":-0.136,"v":-0.16},{"x":0.045,"y":-0.136,"v":-0.16},{"x":0.136,"y":-0.136,"v":-0.16},{"x":0.227,"y":-0.136,"v":-0.161},{"x":0.318,"y":-0.136,"v":-0.161},{"x":0.409,"y":-0.136,"v":-0.16},
{"x":-0.5,"y":-0.227,"v":-0.152},{"x":-0.409,"y":-0.227,"v":-0.154},{"x":-0.318,"y":-0.227,"v":-0.156},{"x":-0.227,"y":-0.227,"v":-0.157},{"x":-0.136,"y":-0.227,"v":-0.158},{"x":-0.045,"y":-0.227,"v":-0.158},{"x":0.045,"y":-0.227,"v":-0.158},{"x":0.136,"y":-0.227,"v":-0.158},{"x":0.227,"y":-0.227,"v":-0.159},{"x":0.318,"y":-0.227,"v":-0.159},{"x":0.409,"y":-0.227,"v":-0.158},
{"x":-0.5,"y":-0.318,"v":-0.153},{"x":-0.409,"y":-0.318,"v":-0.155},{"x":-0.318,"y":-0.318,"v":-0.156},{"x":-0.227,"y":-0.318,"v":-0.157},{"x":-0.136,"y":-0.318,"v":-0.157},{"x":-0.045,"y":-0.318,"v":-0.156},{"x":0.045,"y":-0.318,"v":-0.155},{"x":0.136,"y":-0.318,"v":-0.155},{"x":0.227,"y":-0.318,"v":-0.156},{"x":0.318,"y":-0.318,"v":-0.157},{"x":0.409,"y":-0.318,"v":-0.157},
{"x":-0.5,"y":-0.409,"v":-0.154},{"x":-0.409,"y":-0.409,"v":-0.156},{"x":-0.318,"y":-0.409,"v":-0.157},{"x":-0.227,"y":-0.409,"v":-0.157},{"x":-0.136,"y":-0.409,"v":-0.156},{"x":-0.045,"y":-0.409,"v":-0.155},{"x":0.045,"y":-0.409,"v":-0.154},{"x":0.136,"y":-0.409,"v":-0.154},{"x":0.227,"y":-0.409,"v":-0.155},{"x":0.318,"y":-0.409,"v":-0.156},{"x":0.409,"y":-0.409,"v":-0.156},
{"x":-0.5,"y":-0.5,"v":-0.155},{"x":-0.409,"y":-0.5,"v":-0.156},{"x":-0.318,"y":-0.5,"v":-0.157},{"x":-0.227,"y":-0.5,"v":-0.156},{"x":-0.136,"y":-0.5,"v":-0.155},{"x":-0.045,"y":-0.5,"v":-0.154},{"x":0.045,"y":-0.5,"v":-0.153},{"x":0.136,"y":-0.5,"v":-0.153},{"x":0.227,"y":-0.5,"v":-0.154},{"x":0.318,"y":-0.5,"v":-0.155},{"x":0.409,"y":-0.5,"v":-0.155}
],
"Jul":[
{"x":-0.5,"y":0.409,"v":-0.162},{"x":-0.409,"y":0.409,"v":-0.164},{"x":-0.318,"y":0.409,"v":-0.163},{"x":-0.227,"y":0.409,"v":-0.162},{"x":-0.136,"y":0.409,"v":-0.164},{"x":-0.045,"y":0.409,"v":-0.165},{"x":0.045,"y":0.409,"v":-0.163},{"x":0.136,"y":0.409,"v":-0.16},{"x":0.227,"y":0.409,"v":-0.158},{"x":0.318,"y":0.409,"v":-0.16},{"x":0.409,"y":0.409,"v":-0.162},
{"x":-0.5,"y":0.318,"v":-0.164},{"x":-0.409,"y":0.318,"v":-0.167},{"x":-0.318,"y":0.318,"v":-0.166},{"x":-0.227,"y":0.318,"v":-0.164},{"x":-0.136,"y":0.318,"v":-0.166},{"x":-0.045,"y":0.318,"v":-0.166},{"x":0.045,"y":0.318,"v":-0.165},{"x":0.136,"y":0.318,"v":-0.162},{"x":0.227,"y":0.318,"v":-0.16},{"x":0.318,"y":0.318,"v":-0.163},{"x":0.409,"y":0.318,"v":-0.165},
{"x":-0.5,"y":0.227,"v":-0.165},{"x":-0.409,"y":0.227,"v":-0.168},{"x":-0.318,"y":0.227,"v":-0.167},{"x":-0.227,"y":0.227,"v":-0.166},{"x":-0.136,"y":0.227,"v":-0.168},{"x":-0.045,"y":0.227,"v":-0.17},{"x":0.045,"y":0.227,"v":-0.172},{"x":0.136,"y":0.227,"v":-0.174},{"x":0.227,"y":0.227,"v":-0.17},{"x":0.318,"y":0.227,"v":-0.168},{"x":0.409,"y":0.227,"v":-0.166},
{"x":-0.5,"y":0.136,"v":-0.164},{"x":-0.409,"y":0.136,"v":-0.167},{"x":-0.318,"y":0.136,"v":-0.169},{"x":-0.227,"y":0.136,"v":-0.172},{"x":-0.136,"y":0.136,"v":-0.172},{"x":-0.045,"y":0.136,"v":-0.173},{"x":0.045,"y":0.136,"v":-0.178},{"x":0.136,"y":0.136,"v":-0.182},{"x":0.227,"y":0.136,"v":-0.18},{"x":0.318,"y":0.136,"v":-0.176},{"x":0.409,"y":0.136,"v":-0.168},
{"x":-0.5,"y":0.045,"v":-0.164},{"x":-0.409,"y":0.045,"v":-0.168},{"x":-0.318,"y":0.045,"v":-0.172},{"x":-0.227,"y":0.045,"v":-0.178},{"x":-0.136,"y":0.045,"v":-0.176},{"x":-0.045,"y":0.045,"v":-0.173},{"x":0.045,"y":0.045,"v":-0.18},{"x":0.136,"y":0.045,"v":-0.185},{"x":0.227,"y":0.045,"v":-0.184},{"x":0.318,"y":0.045,"v":-0.178},{"x":0.409,"y":0.045,"v":-0.168},
{"x":-0.5,"y":-0.045,"v":-0.165},{"x":-0.409,"y":-0.045,"v":-0.17},{"x":-0.318,"y":-0.045,"v":-0.175},{"x":-0.227,"y":-0.045,"v":-0.18},{"x":-0.136,"y":-0.045,"v":-0.178},{"x":-0.045,"y":-0.045,"v":-0.172},{"x":0.045,"y":-0.045,"v":-0.178},{"x":0.136,"y":-0.045,"v":-0.184},{"x":0.227,"y":-0.045,"v":-0.186},{"x":0.318,"y":-0.045,"v":-0.18},{"x":0.409,"y":-0.045,"v":-0.169},
{"x":-0.5,"y":-0.136,"v":-0.166},{"x":-0.409,"y":-0.136,"v":-0.17},{"x":-0.318,"y":-0.136,"v":-0.176},{"x":-0.227,"y":-0.136,"v":-0.178},{"x":-0.136,"y":-0.136,"v":-0.176},{"x":-0.045,"y":-0.136,"v":-0.172},{"x":0.045,"y":-0.136,"v":-0.177},{"x":0.136,"y":-0.136,"v":-0.182},{"x":0.227,"y":-0.136,"v":-0.183},{"x":0.318,"y":-0.136,"v":-0.178},{"x":0.409,"y":-0.136,"v":-0.168},
{"x":-0.5,"y":-0.227,"v":-0.17},{"x":-0.409,"y":-0.227,"v":-0.174},{"x":-0.318,"y":-0.227,"v":-0.178},{"x":-0.227,"y":-0.227,"v":-0.176},{"x":-0.136,"y":-0.227,"v":-0.174},{"x":-0.045,"y":-0.227,"v":-0.172},{"x":0.045,"y":-0.227,"v":-0.175},{"x":0.136,"y":-0.227,"v":-0.178},{"x":0.227,"y":-0.227,"v":-0.18},{"x":0.318,"y":-0.227,"v":-0.175},{"x":0.409,"y":-0.227,"v":-0.167},
{"x":-0.5,"y":-0.318,"v":-0.18},{"x":-0.409,"y":-0.318,"v":-0.186},{"x":-0.318,"y":-0.318,"v":-0.18},{"x":-0.227,"y":-0.318,"v":-0.175},{"x":-0.136,"y":-0.318,"v":-0.172},{"x":-0.045,"y":-0.318,"v":-0.172},{"x":0.045,"y":-0.318,"v":-0.174},{"x":0.136,"y":-0.318,"v":-0.176},{"x":0.227,"y":-0.318,"v":-0.178},{"x":0.318,"y":-0.318,"v":-0.173},{"x":0.409,"y":-0.318,"v":-0.166},
{"x":-0.5,"y":-0.409,"v":-0.188},{"x":-0.409,"y":-0.409,"v":-0.192},{"x":-0.318,"y":-0.409,"v":-0.184},{"x":-0.227,"y":-0.409,"v":-0.177},{"x":-0.136,"y":-0.409,"v":-0.174},{"x":-0.045,"y":-0.409,"v":-0.176},{"x":0.045,"y":-0.409,"v":-0.18},{"x":0.136,"y":-0.409,"v":-0.178},{"x":0.227,"y":-0.409,"v":-0.176},{"x":0.318,"y":-0.409,"v":-0.172},{"x":0.409,"y":-0.409,"v":-0.166},
{"x":-0.5,"y":-0.5,"v":-0.19},{"x":-0.409,"y":-0.5,"v":-0.194},{"x":-0.318,"y":-0.5,"v":-0.186},{"x":-0.227,"y":-0.5,"v":-0.178},{"x":-0.136,"y":-0.5,"v":-0.176},{"x":-0.045,"y":-0.5,"v":-0.182},{"x":0.045,"y":-0.5,"v":-0.186},{"x":0.136,"y":-0.5,"v":-0.18},{"x":0.227,"y":-0.5,"v":-0.175},{"x":0.318,"y":-0.5,"v":-0.17},{"x":0.409,"y":-0.5,"v":-0.165}
],
"Aug":[
{"x":-0.5,"y":0.409,"v":-0.172},{"x":-0.409,"y":0.409,"v":-0.178},{"x":-0.318,"y":0.409,"v":-0.18},{"x":-0.227,"y":0.409,"v":-0.175},{"x":-0.136,"y":0.409,"v":-0.172},{"x":-0.045,"y":0.409,"v":-0.174},{"x":0.045,"y":0.409,"v":-0.176},{"x":0.136,"y":0.409,"v":-0.172},{"x":0.227,"y":0.409,"v":-0.168},{"x":0.318,"y":0.409,"v":-0.166},{"x":0.409,"y":0.409,"v":-0.162},
{"x":-0.5,"y":0.318,"v":-0.178},{"x":-0.409,"y":0.318,"v":-0.186},{"x":-0.318,"y":0.318,"v":-0.19},{"x":-0.227,"y":0.318,"v":-0.182},{"x":-0.136,"y":0.318,"v":-0.176},{"x":-0.045,"y":0.318,"v":-0.178},{"x":0.045,"y":0.318,"v":-0.18},{"x":0.136,"y":0.318,"v":-0.176},{"x":0.227,"y":0.318,"v":-0.172},{"x":0.318,"y":0.318,"v":-0.17},{"x":0.409,"y":0.318,"v":-0.164},
{"x":-0.5,"y":0.227,"v":-0.182},{"x":-0.409,"y":0.227,"v":-0.19},{"x":-0.318,"y":0.227,"v":-0.192},{"x":-0.227,"y":0.227,"v":-0.184},{"x":-0.136,"y":0.227,"v":-0.178},{"x":-0.045,"y":0.227,"v":-0.18},{"x":0.045,"y":0.227,"v":-0.182},{"x":0.136,"y":0.227,"v":-0.18},{"x":0.227,"y":0.227,"v":-0.184},{"x":0.318,"y":0.227,"v":-0.178},{"x":0.409,"y":0.227,"v":-0.165},
{"x":-0.5,"y":0.136,"v":-0.18},{"x":-0.409,"y":0.136,"v":-0.186},{"x":-0.318,"y":0.136,"v":-0.186},{"x":-0.227,"y":0.136,"v":-0.184},{"x":-0.136,"y":0.136,"v":-0.18},{"x":-0.045,"y":0.136,"v":-0.178},{"x":0.045,"y":0.136,"v":-0.18},{"x":0.136,"y":0.136,"v":-0.184},{"x":0.227,"y":0.136,"v":-0.186},{"x":0.318,"y":0.136,"v":-0.18},{"x":0.409,"y":0.136,"v":-0.166},
{"x":-0.5,"y":0.045,"v":-0.176},{"x":-0.409,"y":0.045,"v":-0.18},{"x":-0.318,"y":0.045,"v":-0.182},{"x":-0.227,"y":0.045,"v":-0.186},{"x":-0.136,"y":0.045,"v":-0.184},{"x":-0.045,"y":0.045,"v":-0.178},{"x":0.045,"y":0.045,"v":-0.178},{"x":0.136,"y":0.045,"v":-0.182},{"x":0.227,"y":0.045,"v":-0.184},{"x":0.318,"y":0.045,"v":-0.178},{"x":0.409,"y":0.045,"v":-0.166},
{"x":-0.5,"y":-0.045,"v":-0.178},{"x":-0.409,"y":-0.045,"v":-0.18},{"x":-0.318,"y":-0.045,"v":-0.18},{"x":-0.227,"y":-0.045,"v":-0.184},{"x":-0.136,"y":-0.045,"v":-0.182},{"x":-0.045,"y":-0.045,"v":-0.18},{"x":0.045,"y":-0.045,"v":-0.184},{"x":0.136,"y":-0.045,"v":-0.186},{"x":0.227,"y":-0.045,"v":-0.182},{"x":0.318,"y":-0.045,"v":-0.176},{"x":0.409,"y":-0.045,"v":-0.165},
{"x":-0.5,"y":-0.136,"v":-0.18},{"x":-0.409,"y":-0.136,"v":-0.182},{"x":-0.318,"y":-0.136,"v":-0.184},{"x":-0.227,"y":-0.136,"v":-0.182},{"x":-0.136,"y":-0.136,"v":-0.18},{"x":-0.045,"y":-0.136,"v":-0.184},{"x":0.045,"y":-0.136,"v":-0.19},{"x":0.136,"y":-0.136,"v":-0.188},{"x":0.227,"y":-0.136,"v":-0.182},{"x":0.318,"y":-0.136,"v":-0.175},{"x":0.409,"y":-0.136,"v":-0.165},
{"x":-0.5,"y":-0.227,"v":-0.182},{"x":-0.409,"y":-0.227,"v":-0.186},{"x":-0.318,"y":-0.227,"v":-0.188},{"x":-0.227,"y":-0.227,"v":-0.184},{"x":-0.136,"y":-0.227,"v":-0.182},{"x":-0.045,"y":-0.227,"v":-0.186},{"x":0.045,"y":-0.227,"v":-0.19},{"x":0.136,"y":-0.227,"v":-0.19},{"x":0.227,"y":-0.227,"v":-0.182},{"x":0.318,"y":-0.227,"v":-0.174},{"x":0.409,"y":-0.227,"v":-0.165},
{"x":-0.5,"y":-0.318,"v":-0.188},{"x":-0.409,"y":-0.318,"v":-0.192},{"x":-0.318,"y":-0.318,"v":-0.186},{"x":-0.227,"y":-0.318,"v":-0.182},{"x":-0.136,"y":-0.318,"v":-0.186},{"x":-0.045,"y":-0.318,"v":-0.188},{"x":0.045,"y":-0.318,"v":-0.188},{"x":0.136,"y":-0.318,"v":-0.186},{"x":0.227,"y":-0.318,"v":-0.18},{"x":0.318,"y":-0.318,"v":-0.173},{"x":0.409,"y":-0.318,"v":-0.165},
{"x":-0.5,"y":-0.409,"v":-0.194},{"x":-0.409,"y":-0.409,"v":-0.196},{"x":-0.318,"y":-0.409,"v":-0.188},{"x":-0.227,"y":-0.409,"v":-0.184},{"x":-0.136,"y":-0.409,"v":-0.19},{"x":-0.045,"y":-0.409,"v":-0.186},{"x":0.045,"y":-0.409,"v":-0.184},{"x":0.136,"y":-0.409,"v":-0.182},{"x":0.227,"y":-0.409,"v":-0.178},{"x":0.318,"y":-0.409,"v":-0.172},{"x":0.409,"y":-0.409,"v":-0.165},
{"x":-0.5,"y":-0.5,"v":-0.192},{"x":-0.409,"y":-0.5,"v":-0.194},{"x":-0.318,"y":-0.5,"v":-0.186},{"x":-0.227,"y":-0.5,"v":-0.182},{"x":-0.136,"y":-0.5,"v":-0.188},{"x":-0.045,"y":-0.5,"v":-0.184},{"x":0.045,"y":-0.5,"v":-0.182},{"x":0.136,"y":-0.5,"v":-0.18},{"x":0.227,"y":-0.5,"v":-0.176},{"x":0.318,"y":-0.5,"v":-0.17},{"x":0.409,"y":-0.5,"v":-0.164}
],
"Sep":[
{"x":-0.5,"y":0.409,"v":-0.19},{"x":-0.409,"y":0.409,"v":-0.196},{"x":-0.318,"y":0.409,"v":-0.194},{"x":-0.227,"y":0.409,"v":-0.18},{"x":-0.136,"y":0.409,"v":-0.176},{"x":-0.045,"y":0.409,"v":-0.172},{"x":0.045,"y":0.409,"v":-0.168},{"x":0.136,"y":0.409,"v":-0.165},{"x":0.227,"y":0.409,"v":-0.164},{"x":0.318,"y":0.409,"v":-0.164},{"x":0.409,"y":0.409,"v":-0.163},
{"x":-0.5,"y":0.318,"v":-0.196},{"x":-0.409,"y":0.318,"v":-0.205},{"x":-0.318,"y":0.318,"v":-0.21},{"x":-0.227,"y":0.318,"v":-0.195},{"x":-0.136,"y":0.318,"v":-0.182},{"x":-0.045,"y":0.318,"v":-0.176},{"x":0.045,"y":0.318,"v":-0.172},{"x":0.136,"y":0.318,"v":-0.17},{"x":0.227,"y":0.318,"v":-0.168},{"x":0.318,"y":0.318,"v":-0.166},{"x":0.409,"y":0.318,"v":-0.164},
{"x":-0.5,"y":0.227,"v":-0.205},{"x":-0.409,"y":0.227,"v":-0.212},{"x":-0.318,"y":0.227,"v":-0.214},{"x":-0.227,"y":0.227,"v":-0.2},{"x":-0.136,"y":0.227,"v":-0.186},{"x":-0.045,"y":0.227,"v":-0.18},{"x":0.045,"y":0.227,"v":-0.178},{"x":0.136,"y":0.227,"v":-0.175},{"x":0.227,"y":0.227,"v":-0.17},{"x":0.318,"y":0.227,"v":-0.167},{"x":0.409,"y":0.227,"v":-0.164},
{"x":-0.5,"y":0.136,"v":-0.215},{"x":-0.409,"y":0.136,"v":-0.218},{"x":-0.318,"y":0.136,"v":-0.21},{"x":-0.227,"y":0.136,"v":-0.198},{"x":-0.136,"y":0.136,"v":-0.186},{"x":-0.045,"y":0.136,"v":-0.182},{"x":0.045,"y":0.136,"v":-0.18},{"x":0.136,"y":0.136,"v":-0.176},{"x":0.227,"y":0.136,"v":-0.172},{"x":0.318,"y":0.136,"v":-0.166},{"x":0.409,"y":0.136,"v":-0.163},
{"x":-0.5,"y":0.045,"v":-0.224},{"x":-0.409,"y":0.045,"v":-0.22},{"x":-0.318,"y":0.045,"v":-0.206},{"x":-0.227,"y":0.045,"v":-0.194},{"x":-0.136,"y":0.045,"v":-0.184},{"x":-0.045,"y":0.045,"v":-0.18},{"x":0.045,"y":0.045,"v":-0.178},{"x":0.136,"y":0.045,"v":-0.174},{"x":0.227,"y":0.045,"v":-0.17},{"x":0.318,"y":0.045,"v":-0.165},{"x":0.409,"y":0.045,"v":-0.162},
{"x":-0.5,"y":-0.045,"v":-0.21},{"x":-0.409,"y":-0.045,"v":-0.205},{"x":-0.318,"y":-0.045,"v":-0.198},{"x":-0.227,"y":-0.045,"v":-0.19},{"x":-0.136,"y":-0.045,"v":-0.182},{"x":-0.045,"y":-0.045,"v":-0.176},{"x":0.045,"y":-0.045,"v":-0.172},{"x":0.136,"y":-0.045,"v":-0.17},{"x":0.227,"y":-0.045,"v":-0.168},{"x":0.318,"y":-0.045,"v":-0.164},{"x":0.409,"y":-0.045,"v":-0.162},
{"x":-0.5,"y":-0.136,"v":-0.192},{"x":-0.409,"y":-0.136,"v":-0.186},{"x":-0.318,"y":-0.136,"v":-0.18},{"x":-0.227,"y":-0.136,"v":-0.174},{"x":-0.136,"y":-0.136,"v":-0.17},{"x":-0.045,"y":-0.136,"v":-0.168},{"x":0.045,"y":-0.136,"v":-0.167},{"x":0.136,"y":-0.136,"v":-0.166},{"x":0.227,"y":-0.136,"v":-0.166},{"x":0.318,"y":-0.136,"v":-0.163},{"x":0.409,"y":-0.136,"v":-0.161},
{"x":-0.5,"y":-0.227,"v":-0.182},{"x":-0.409,"y":-0.227,"v":-0.178},{"x":-0.318,"y":-0.227,"v":-0.174},{"x":-0.227,"y":-0.227,"v":-0.17},{"x":-0.136,"y":-0.227,"v":-0.172},{"x":-0.045,"y":-0.227,"v":-0.174},{"x":0.045,"y":-0.227,"v":-0.17},{"x":0.136,"y":-0.227,"v":-0.168},{"x":0.227,"y":-0.227,"v":-0.166},{"x":0.318,"y":-0.227,"v":-0.163},{"x":0.409,"y":-0.227,"v":-0.161},
{"x":-0.5,"y":-0.318,"v":-0.18},{"x":-0.409,"y":-0.318,"v":-0.176},{"x":-0.318,"y":-0.318,"v":-0.172},{"x":-0.227,"y":-0.318,"v":-0.17},{"x":-0.136,"y":-0.318,"v":-0.176},{"x":-0.045,"y":-0.318,"v":-0.18},{"x":0.045,"y":-0.318,"v":-0.172},{"x":0.136,"y":-0.318,"v":-0.168},{"x":0.227,"y":-0.318,"v":-0.166},{"x":0.318,"y":-0.318,"v":-0.164},{"x":0.409,"y":-0.318,"v":-0.162},
{"x":-0.5,"y":-0.409,"v":-0.182},{"x":-0.409,"y":-0.409,"v":-0.178},{"x":-0.318,"y":-0.409,"v":-0.174},{"x":-0.227,"y":-0.409,"v":-0.176},{"x":-0.136,"y":-0.409,"v":-0.182},{"x":-0.045,"y":-0.409,"v":-0.182},{"x":0.045,"y":-0.409,"v":-0.174},{"x":0.136,"y":-0.409,"v":-0.17},{"x":0.227,"y":-0.409,"v":-0.167},{"x":0.318,"y":-0.409,"v":-0.164},{"x":0.409,"y":-0.409,"v":-0.162},
{"x":-0.5,"y":-0.5,"v":-0.184},{"x":-0.409,"y":-0.5,"v":-0.18},{"x":-0.318,"y":-0.5,"v":-0.176},{"x":-0.227,"y":-0.5,"v":-0.178},{"x":-0.136,"y":-0.5,"v":-0.18},{"x":-0.045,"y":-0.5,"v":-0.176},{"x":0.045,"y":-0.5,"v":-0.172},{"x":0.136,"y":-0.5,"v":-0.168},{"x":0.227,"y":-0.5,"v":-0.166},{"x":0.318,"y":-0.5,"v":-0.164},{"x":0.409,"y":-0.5,"v":-0.162}
],
"Oct":[
{"x":-0.5,"y":0.409,"v":-0.178},{"x":-0.409,"y":0.409,"v":-0.182},{"x":-0.318,"y":0.409,"v":-0.182},{"x":-0.227,"y":0.409,"v":-0.178},{"x":-0.136,"y":0.409,"v":-0.172},{"x":-0.045,"y":0.409,"v":-0.166},{"x":0.045,"y":0.409,"v":-0.164},{"x":0.136,"y":0.409,"v":-0.165},{"x":0.227,"y":0.409,"v":-0.166},{"x":0.318,"y":0.409,"v":-0.168},{"x":0.409,"y":0.409,"v":-0.17},
{"x":-0.5,"y":0.318,"v":-0.182},{"x":-0.409,"y":0.318,"v":-0.186},{"x":-0.318,"y":0.318,"v":-0.184},{"x":-0.227,"y":0.318,"v":-0.18},{"x":-0.136,"y":0.318,"v":-0.18},{"x":-0.045,"y":0.318,"v":-0.174},{"x":0.045,"y":0.318,"v":-0.168},{"x":0.136,"y":0.318,"v":-0.168},{"x":0.227,"y":0.318,"v":-0.17},{"x":0.318,"y":0.318,"v":-0.172},{"x":0.409,"y":0.318,"v":-0.174},
{"x":-0.5,"y":0.227,"v":-0.186},{"x":-0.409,"y":0.227,"v":-0.188},{"x":-0.318,"y":0.227,"v":-0.184},{"x":-0.227,"y":0.227,"v":-0.182},{"x":-0.136,"y":0.227,"v":-0.186},{"x":-0.045,"y":0.227,"v":-0.182},{"x":0.045,"y":0.227,"v":-0.174},{"x":0.136,"y":0.227,"v":-0.172},{"x":0.227,"y":0.227,"v":-0.176},{"x":0.318,"y":0.227,"v":-0.18},{"x":0.409,"y":0.227,"v":-0.184},
{"x":-0.5,"y":0.136,"v":-0.184},{"x":-0.409,"y":0.136,"v":-0.184},{"x":-0.318,"y":0.136,"v":-0.18},{"x":-0.227,"y":0.136,"v":-0.178},{"x":-0.136,"y":0.136,"v":-0.182},{"x":-0.045,"y":0.136,"v":-0.18},{"x":0.045,"y":0.136,"v":-0.176},{"x":0.136,"y":0.136,"v":-0.176},{"x":0.227,"y":0.136,"v":-0.18},{"x":0.318,"y":0.136,"v":-0.186},{"x":0.409,"y":0.136,"v":-0.192},
{"x":-0.5,"y":0.045,"v":-0.18},{"x":-0.409,"y":0.045,"v":-0.178},{"x":-0.318,"y":0.045,"v":-0.174},{"x":-0.227,"y":0.045,"v":-0.172},{"x":-0.136,"y":0.045,"v":-0.174},{"x":-0.045,"y":0.045,"v":-0.176},{"x":0.045,"y":0.045,"v":-0.176},{"x":0.136,"y":0.045,"v":-0.178},{"x":0.227,"y":0.045,"v":-0.184},{"x":0.318,"y":0.045,"v":-0.192},{"x":0.409,"y":0.045,"v":-0.2},
{"x":-0.5,"y":-0.045,"v":-0.176},{"x":-0.409,"y":-0.045,"v":-0.174},{"x":-0.318,"y":-0.045,"v":-0.17},{"x":-0.227,"y":-0.045,"v":-0.17},{"x":-0.136,"y":-0.045,"v":-0.172},{"x":-0.045,"y":-0.045,"v":-0.174},{"x":0.045,"y":-0.045,"v":-0.176},{"x":0.136,"y":-0.045,"v":-0.18},{"x":0.227,"y":-0.045,"v":-0.186},{"x":0.318,"y":-0.045,"v":-0.196},{"x":0.409,"y":-0.045,"v":-0.208},
{"x":-0.5,"y":-0.136,"v":-0.174},{"x":-0.409,"y":-0.136,"v":-0.172},{"x":-0.318,"y":-0.136,"v":-0.17},{"x":-0.227,"y":-0.136,"v":-0.17},{"x":-0.136,"y":-0.136,"v":-0.174},{"x":-0.045,"y":-0.136,"v":-0.178},{"x":0.045,"y":-0.136,"v":-0.182},{"x":0.136,"y":-0.136,"v":-0.186},{"x":0.227,"y":-0.136,"v":-0.192},{"x":0.318,"y":-0.136,"v":-0.202},{"x":0.409,"y":-0.136,"v":-0.215},
{"x":-0.5,"y":-0.227,"v":-0.176},{"x":-0.409,"y":-0.227,"v":-0.174},{"x":-0.318,"y":-0.227,"v":-0.174},{"x":-0.227,"y":-0.227,"v":-0.176},{"x":-0.136,"y":-0.227,"v":-0.182},{"x":-0.045,"y":-0.227,"v":-0.19},{"x":0.045,"y":-0.227,"v":-0.196},{"x":0.136,"y":-0.227,"v":-0.2},{"x":0.227,"y":-0.227,"v":-0.205},{"x":0.318,"y":-0.227,"v":-0.212},{"x":0.409,"y":-0.227,"v":-0.222},
{"x":-0.5,"y":-0.318,"v":-0.18},{"x":-0.409,"y":-0.318,"v":-0.18},{"x":-0.318,"y":-0.318,"v":-0.182},{"x":-0.227,"y":-0.318,"v":-0.186},{"x":-0.136,"y":-0.318,"v":-0.194},{"x":-0.045,"y":-0.318,"v":-0.21},{"x":0.045,"y":-0.318,"v":-0.22},{"x":0.136,"y":-0.318,"v":-0.224},{"x":0.227,"y":-0.318,"v":-0.226},{"x":0.318,"y":-0.318,"v":-0.228},{"x":0.409,"y":-0.318,"v":-0.232},
{"x":-0.5,"y":-0.409,"v":-0.184},{"x":-0.409,"y":-0.409,"v":-0.186},{"x":-0.318,"y":-0.409,"v":-0.19},{"x":-0.227,"y":-0.409,"v":-0.196},{"x":-0.136,"y":-0.409,"v":-0.21},{"x":-0.045,"y":-0.409,"v":-0.234},{"x":0.045,"y":-0.409,"v":-0.236},{"x":0.136,"y":-0.409,"v":-0.238},{"x":0.227,"y":-0.409,"v":-0.244},{"x":0.318,"y":-0.409,"v":-0.246},{"x":0.409,"y":-0.409,"v":-0.24},
{"x":-0.5,"y":-0.5,"v":-0.186},{"x":-0.409,"y":-0.5,"v":-0.19},{"x":-0.318,"y":-0.5,"v":-0.194},{"x":-0.227,"y":-0.5,"v":-0.2},{"x":-0.136,"y":-0.5,"v":-0.214},{"x":-0.045,"y":-0.5,"v":-0.236},{"x":0.045,"y":-0.5,"v":-0.238},{"x":0.136,"y":-0.5,"v":-0.24},{"x":0.227,"y":-0.5,"v":-0.246},{"x":0.318,"y":-0.5,"v":-0.248},{"x":0.409,"y":-0.5,"v":-0.242}
],
"Nov":[
{"x":-0.5,"y":0.409,"v":-0.168},{"x":-0.409,"y":0.409,"v":-0.166},{"x":-0.318,"y":0.409,"v":-0.164},{"x":-0.227,"y":0.409,"v":-0.166},{"x":-0.136,"y":0.409,"v":-0.17},{"x":-0.045,"y":0.409,"v":-0.168},{"x":0.045,"y":0.409,"v":-0.165},{"x":0.136,"y":0.409,"v":-0.166},{"x":0.227,"y":0.409,"v":-0.168},{"x":0.318,"y":0.409,"v":-0.166},{"x":0.409,"y":0.409,"v":-0.164},
{"x":-0.5,"y":0.318,"v":-0.176},{"x":-0.409,"y":0.318,"v":-0.178},{"x":-0.318,"y":0.318,"v":-0.176},{"x":-0.227,"y":0.318,"v":-0.178},{"x":-0.136,"y":0.318,"v":-0.18},{"x":-0.045,"y":0.318,"v":-0.178},{"x":0.045,"y":0.318,"v":-0.176},{"x":0.136,"y":0.318,"v":-0.18},{"x":0.227,"y":0.318,"v":-0.186},{"x":0.318,"y":0.318,"v":-0.188},{"x":0.409,"y":0.318,"v":-0.186},
{"x":-0.5,"y":0.227,"v":-0.184},{"x":-0.409,"y":0.227,"v":-0.182},{"x":-0.318,"y":0.227,"v":-0.18},{"x":-0.227,"y":0.227,"v":-0.18},{"x":-0.136,"y":0.227,"v":-0.182},{"x":-0.045,"y":0.227,"v":-0.184},{"x":0.045,"y":0.227,"v":-0.186},{"x":0.136,"y":0.227,"v":-0.192},{"x":0.227,"y":0.227,"v":-0.198},{"x":0.318,"y":0.227,"v":-0.205},{"x":0.409,"y":0.227,"v":-0.208},
{"x":-0.5,"y":0.136,"v":-0.182},{"x":-0.409,"y":0.136,"v":-0.178},{"x":-0.318,"y":0.136,"v":-0.176},{"x":-0.227,"y":0.136,"v":-0.178},{"x":-0.136,"y":0.136,"v":-0.182},{"x":-0.045,"y":0.136,"v":-0.186},{"x":0.045,"y":0.136,"v":-0.19},{"x":0.136,"y":0.136,"v":-0.196},{"x":0.227,"y":0.136,"v":-0.206},{"x":0.318,"y":0.136,"v":-0.218},{"x":0.409,"y":0.136,"v":-0.225},
{"x":-0.5,"y":0.045,"v":-0.18},{"x":-0.409,"y":0.045,"v":-0.174},{"x":-0.318,"y":0.045,"v":-0.172},{"x":-0.227,"y":0.045,"v":-0.174},{"x":-0.136,"y":0.045,"v":-0.178},{"x":-0.045,"y":0.045,"v":-0.184},{"x":0.045,"y":0.045,"v":-0.19},{"x":0.136,"y":0.045,"v":-0.198},{"x":0.227,"y":0.045,"v":-0.214},{"x":0.318,"y":0.045,"v":-0.232},{"x":0.409,"y":0.045,"v":-0.236},
{"x":-0.5,"y":-0.045,"v":-0.178},{"x":-0.409,"y":-0.045,"v":-0.172},{"x":-0.318,"y":-0.045,"v":-0.17},{"x":-0.227,"y":-0.045,"v":-0.172},{"x":-0.136,"y":-0.045,"v":-0.176},{"x":-0.045,"y":-0.045,"v":-0.182},{"x":0.045,"y":-0.045,"v":-0.19},{"x":0.136,"y":-0.045,"v":-0.202},{"x":0.227,"y":-0.045,"v":-0.222},{"x":0.318,"y":-0.045,"v":-0.24},{"x":0.409,"y":-0.045,"v":-0.242},
{"x":-0.5,"y":-0.136,"v":-0.18},{"x":-0.409,"y":-0.136,"v":-0.174},{"x":-0.318,"y":-0.136,"v":-0.172},{"x":-0.227,"y":-0.136,"v":-0.174},{"x":-0.136,"y":-0.136,"v":-0.178},{"x":-0.045,"y":-0.136,"v":-0.186},{"x":0.045,"y":-0.136,"v":-0.196},{"x":0.136,"y":-0.136,"v":-0.214},{"x":0.227,"y":-0.136,"v":-0.236},{"x":0.318,"y":-0.136,"v":-0.252},{"x":0.409,"y":-0.136,"v":-0.25},
{"x":-0.5,"y":-0.227,"v":-0.188},{"x":-0.409,"y":-0.227,"v":-0.182},{"x":-0.318,"y":-0.227,"v":-0.18},{"x":-0.227,"y":-0.227,"v":-0.182},{"x":-0.136,"y":-0.227,"v":-0.188},{"x":-0.045,"y":-0.227,"v":-0.196},{"x":0.045,"y":-0.227,"v":-0.21},{"x":0.136,"y":-0.227,"v":-0.232},{"x":0.227,"y":-0.227,"v":-0.25},{"x":0.318,"y":-0.227,"v":-0.262},{"x":0.409,"y":-0.227,"v":-0.258},
{"x":-0.5,"y":-0.318,"v":-0.2},{"x":-0.409,"y":-0.318,"v":-0.198},{"x":-0.318,"y":-0.318,"v":-0.202},{"x":-0.227,"y":-0.318,"v":-0.208},{"x":-0.136,"y":-0.318,"v":-0.216},{"x":-0.045,"y":-0.318,"v":-0.226},{"x":0.045,"y":-0.318,"v":-0.244},{"x":0.136,"y":-0.318,"v":-0.262},{"x":0.227,"y":-0.318,"v":-0.274},{"x":0.318,"y":-0.318,"v":-0.284},{"x":0.409,"y":-0.318,"v":-0.28},
{"x":-0.5,"y":-0.409,"v":-0.204},{"x":-0.409,"y":-0.409,"v":-0.206},{"x":-0.318,"y":-0.409,"v":-0.214},{"x":-0.227,"y":-0.409,"v":-0.222},{"x":-0.136,"y":-0.409,"v":-0.232},{"x":-0.045,"y":-0.409,"v":-0.246},{"x":0.045,"y":-0.409,"v":-0.268},{"x":0.136,"y":-0.409,"v":-0.286},{"x":0.227,"y":-0.409,"v":-0.296},{"x":0.318,"y":-0.409,"v":-0.302},{"x":0.409,"y":-0.409,"v":-0.298},
{"x":-0.5,"y":-0.5,"v":-0.204},{"x":-0.409,"y":-0.5,"v":-0.208},{"x":-0.318,"y":-0.5,"v":-0.218},{"x":-0.227,"y":-0.5,"v":-0.228},{"x":-0.136,"y":-0.5,"v":-0.236},{"x":-0.045,"y":-0.5,"v":-0.25},{"x":0.045,"y":-0.5,"v":-0.274},{"x":0.136,"y":-0.5,"v":-0.292},{"x":0.227,"y":-0.5,"v":-0.3},{"x":0.318,"y":-0.5,"v":-0.306},{"x":0.409,"y":-0.5,"v":-0.302}
],
"Dec":[
{"x":-0.5,"y":0.409,"v":-0.15},{"x":-0.409,"y":0.409,"v":-0.146},{"x":-0.318,"y":0.409,"v":-0.15},{"x":-0.227,"y":0.409,"v":-0.156},{"x":-0.136,"y":0.409,"v":-0.16},{"x":-0.045,"y":0.409,"v":-0.162},{"x":0.045,"y":0.409,"v":-0.164},{"x":0.136,"y":0.409,"v":-0.162},{"x":0.227,"y":0.409,"v":-0.16},{"x":0.318,"y":0.409,"v":-0.162},{"x":0.409,"y":0.409,"v":-0.166},
{"x":-0.5,"y":0.318,"v":-0.152},{"x":-0.409,"y":0.318,"v":-0.15},{"x":-0.318,"y":0.318,"v":-0.154},{"x":-0.227,"y":0.318,"v":-0.158},{"x":-0.136,"y":0.318,"v":-0.162},{"x":-0.045,"y":0.318,"v":-0.164},{"x":0.045,"y":0.318,"v":-0.166},{"x":0.136,"y":0.318,"v":-0.166},{"x":0.227,"y":0.318,"v":-0.168},{"x":0.318,"y":0.318,"v":-0.172},{"x":0.409,"y":0.318,"v":-0.176},
{"x":-0.5,"y":0.227,"v":-0.156},{"x":-0.409,"y":0.227,"v":-0.154},{"x":-0.318,"y":0.227,"v":-0.158},{"x":-0.227,"y":0.227,"v":-0.162},{"x":-0.136,"y":0.227,"v":-0.166},{"x":-0.045,"y":0.227,"v":-0.168},{"x":0.045,"y":0.227,"v":-0.172},{"x":0.136,"y":0.227,"v":-0.176},{"x":0.227,"y":0.227,"v":-0.178},{"x":0.318,"y":0.227,"v":-0.182},{"x":0.409,"y":0.227,"v":-0.184},
{"x":-0.5,"y":0.136,"v":-0.16},{"x":-0.409,"y":0.136,"v":-0.158},{"x":-0.318,"y":0.136,"v":-0.16},{"x":-0.227,"y":0.136,"v":-0.164},{"x":-0.136,"y":0.136,"v":-0.168},{"x":-0.045,"y":0.136,"v":-0.172},{"x":0.045,"y":0.136,"v":-0.178},{"x":0.136,"y":0.136,"v":-0.184},{"x":0.227,"y":0.136,"v":-0.186},{"x":0.318,"y":0.136,"v":-0.188},{"x":0.409,"y":0.136,"v":-0.19},
{"x":-0.5,"y":0.045,"v":-0.162},{"x":-0.409,"y":0.045,"v":-0.16},{"x":-0.318,"y":0.045,"v":-0.16},{"x":-0.227,"y":0.045,"v":-0.162},{"x":-0.136,"y":0.045,"v":-0.166},{"x":-0.045,"y":0.045,"v":-0.172},{"x":0.045,"y":0.045,"v":-0.18},{"x":0.136,"y":0.045,"v":-0.186},{"x":0.227,"y":0.045,"v":-0.19},{"x":0.318,"y":0.045,"v":-0.192},{"x":0.409,"y":0.045,"v":-0.194},
{"x":-0.5,"y":-0.045,"v":-0.164},{"x":-0.409,"y":-0.045,"v":-0.162},{"x":-0.318,"y":-0.045,"v":-0.16},{"x":-0.227,"y":-0.045,"v":-0.16},{"x":-0.136,"y":-0.045,"v":-0.164},{"x":-0.045,"y":-0.045,"v":-0.172},{"x":0.045,"y":-0.045,"v":-0.18},{"x":0.136,"y":-0.045,"v":-0.186},{"x":0.227,"y":-0.045,"v":-0.192},{"x":0.318,"y":-0.045,"v":-0.196},{"x":0.409,"y":-0.045,"v":-0.198},
{"x":-0.5,"y":-0.136,"v":-0.168},{"x":-0.409,"y":-0.136,"v":-0.164},{"x":-0.318,"y":-0.136,"v":-0.162},{"x":-0.227,"y":-0.136,"v":-0.162},{"x":-0.136,"y":-0.136,"v":-0.166},{"x":-0.045,"y":-0.136,"v":-0.174},{"x":0.045,"y":-0.136,"v":-0.182},{"x":0.136,"y":-0.136,"v":-0.188},{"x":0.227,"y":-0.136,"v":-0.194},{"x":0.318,"y":-0.136,"v":-0.198},{"x":0.409,"y":-0.136,"v":-0.202},
{"x":-0.5,"y":-0.227,"v":-0.172},{"x":-0.409,"y":-0.227,"v":-0.168},{"x":-0.318,"y":-0.227,"v":-0.166},{"x":-0.227,"y":-0.227,"v":-0.168},{"x":-0.136,"y":-0.227,"v":-0.174},{"x":-0.045,"y":-0.227,"v":-0.182},{"x":0.045,"y":-0.227,"v":-0.19},{"x":0.136,"y":-0.227,"v":-0.196},{"x":0.227,"y":-0.227,"v":-0.2},{"x":0.318,"y":-0.227,"v":-0.204},{"x":0.409,"y":-0.227,"v":-0.208},
{"x":-0.5,"y":-0.318,"v":-0.184},{"x":-0.409,"y":-0.318,"v":-0.18},{"x":-0.318,"y":-0.318,"v":-0.182},{"x":-0.227,"y":-0.318,"v":-0.19},{"x":-0.136,"y":-0.318,"v":-0.2},{"x":-0.045,"y":-0.318,"v":-0.21},{"x":0.045,"y":-0.318,"v":-0.216},{"x":0.136,"y":-0.318,"v":-0.22},{"x":0.227,"y":-0.318,"v":-0.222},{"x":0.318,"y":-0.318,"v":-0.226},{"x":0.409,"y":-0.318,"v":-0.23},
{"x":-0.5,"y":-0.409,"v":-0.196},{"x":-0.409,"y":-0.409,"v":-0.2},{"x":-0.318,"y":-0.409,"v":-0.208},{"x":-0.227,"y":-0.409,"v":-0.222},{"x":-0.136,"y":-0.409,"v":-0.232},{"x":-0.045,"y":-0.409,"v":-0.238},{"x":0.045,"y":-0.409,"v":-0.24},{"x":0.136,"y":-0.409,"v":-0.242},{"x":0.227,"y":-0.409,"v":-0.246},{"x":0.318,"y":-0.409,"v":-0.252},{"x":0.409,"y":-0.409,"v":-0.258},
{"x":-0.5,"y":-0.5,"v":-0.2},{"x":-0.409,"y":-0.5,"v":-0.206},{"x":-0.318,"y":-0.5,"v":-0.216},{"x":-0.227,"y":-0.5,"v":-0.228},{"x":-0.136,"y":-0.5,"v":-0.236},{"x":-0.045,"y":-0.5,"v":-0.24},{"x":0.045,"y":-0.5,"v":-0.244},{"x":0.136,"y":-0.5,"v":-0.248},{"x":0.227,"y":-0.5,"v":-0.254},{"x":0.318,"y":-0.5,"v":-0.262},{"x":0.409,"y":-0.5,"v":-0.266}
]
},
"spacing":-1,
"hconcat":[
{"data":{"name":"mean"},"width":175,"height":293,"mark":{"type":"rect","clip":true},
"encoding":{
"x":{"field":"x","type":"quantitative","bin":{"binned":true,"step":0.0915},"scale":{"domain":[-0.5,0.5],"nice":false,"zero":false},"axis":{"values":[-0.4,-0.2,0,0.2,0.4],"title":"Relative Longitude"}},
"y":{"field":"y","type":"quantitative","bin":{"binned":true,"step":0.0915},"scale":{"domain":[-0.5,0.5],"nice":false,"zero":false},"axis":{"values":[-0.5,-0.4,-0.3,-0.2,-0.1,0,0.1,0.2,0.3,0.4,0.5],"title":"Relative Latitude"}},
"color":{"field":"v","type":"quantitative","scale":{"type":"linear","domain":[-0.307,-0.2339,-0.1608,-0.112],"range":["#0b0000","#ff0000","#ffff00","#ffffff"],"interpolate":"rgb","clamp":true},"legend":{"title":null,"values":[-0.3,-0.28,-0.26,-0.24,-0.22,-0.2,-0.18,-0.16,-0.14,-0.12],"format":"~g","direction":"vertical","orient":"none","legendX":581,"legendY":-17}}
}},
{"columns":4,"bounds":"flush","spacing":{"row":39,"column":43},
"concat":[
{"title":"Jan","data":{"name":"Jan"},"width":56,"height":71,"mark":{"type":"rect","clip":true},"encoding":{"x":{"field":"x","type":"quantitative","bin":{"binned":true,"step":0.0915},"scale":{"domain":[-0.5,0.5],"nice":false,"zero":false},"axis":{"values":[-0.4,-0.2,0,0.2,0.4],"labelExpr":"abs(datum.value)==0.2?'':datum.label","title":null}},"y":{"field":"y","type":"quantitative","bin":{"binned":true,"step":0.0915},"scale":{"domain":[-0.5,0.5],"nice":false,"zero":false},"axis":{"values":[-0.5,0,0.5],"title":null}},"color":{"field":"v","type":"quantitative","scale":{"type":"linear","domain":[-0.307,-0.2339,-0.1608,-0.112],"range":["#0b0000","#ff0000","#ffff00","#ffffff"],"interpolate":"rgb","clamp":true}}}},
{"title":"Feb","data":{"name":"Feb"},"width":56,"height":71,"mark":{"type":"rect","clip":true},"encoding":{"x":{"field":"x","type":"quantitative","bin":{"binned":true,"step":0.0915},"scale":{"domain":[-0.5,0.5],"nice":false,"zero":false},"axis":{"values":[-0.4,-0.2,0,0.2,0.4],"labelExpr":"abs(datum.value)==0.2?'':datum.label","title":null}},"y":{"field":"y","type":"quantitative","bin":{"binned":true,"step":0.0915},"scale":{"domain":[-0.5,0.5],"nice":false,"zero":false},"axis":{"values":[-0.5,0,0.5],"title":null}},"color":{"field":"v","type":"quantitative","scale":{"type":"linear","domain":[-0.307,-0.2339,-0.1608,-0.112],"range":["#0b0000","#ff0000","#ffff00","#ffffff"],"interpolate":"rgb","clamp":true}}}},
{"title":"Mar","data":{"name":"Mar"},"width":56,"height":71,"mark":{"type":"rect","clip":true},"encoding":{"x":{"field":"x","type":"quantitative","bin":{"binned":true,"step":0.0915},"scale":{"domain":[-0.5,0.5],"nice":false,"zero":false},"axis":{"values":[-0.4,-0.2,0,0.2,0.4],"labelExpr":"abs(datum.value)==0.2?'':datum.label","title":null}},"y":{"field":"y","type":"quantitative","bin":{"binned":true,"step":0.0915},"scale":{"domain":[-0.5,0.5],"nice":false,"zero":false},"axis":{"values":[-0.5,0,0.5],"title":null}},"color":{"field":"v","type":"quantitative","scale":{"type":"linear","domain":[-0.307,-0.2339,-0.1608,-0.112],"range":["#0b0000","#ff0000","#ffff00","#ffffff"],"interpolate":"rgb","clamp":true}}}},
{"title":"Apr","data":{"name":"Apr"},"width":56,"height":71,"mark":{"type":"rect","clip":true},"encoding":{"x":{"field":"x","type":"quantitative","bin":{"binned":true,"step":0.0915},"scale":{"domain":[-0.5,0.5],"nice":false,"zero":false},"axis":{"values":[-0.4,-0.2,0,0.2,0.4],"labelExpr":"abs(datum.value)==0.2?'':datum.label","title":null}},"y":{"field":"y","type":"quantitative","bin":{"binned":true,"step":0.0915},"scale":{"domain":[-0.5,0.5],"nice":false,"zero":false},"axis":{"values":[-0.5,0,0.5],"title":null}},"color":{"field":"v","type":"quantitative","scale":{"type":"linear","domain":[-0.307,-0.2339,-0.1608,-0.112],"range":["#0b0000","#ff0000","#ffff00","#ffffff"],"interpolate":"rgb","clamp":true}}}},
{"title":"May","data":{"name":"May"},"width":56,"height":71,"mark":{"type":"rect","clip":true},"encoding":{"x":{"field":"x","type":"quantitative","bin":{"binned":true,"step":0.0915},"scale":{"domain":[-0.5,0.5],"nice":false,"zero":false},"axis":{"values":[-0.4,-0.2,0,0.2,0.4],"labelExpr":"abs(datum.value)==0.2?'':datum.label","title":null}},"y":{"field":"y","type":"quantitative","bin":{"binned":true,"step":0.0915},"scale":{"domain":[-0.5,0.5],"nice":false,"zero":false},"axis":{"values":[-0.5,0,0.5],"title":null}},"color":{"field":"v","type":"quantitative","scale":{"type":"linear","domain":[-0.307,-0.2339,-0.1608,-0.112],"range":["#0b0000","#ff0000","#ffff00","#ffffff"],"interpolate":"rgb","clamp":true}}}},
{"title":"Jun","data":{"name":"Jun"},"width":56,"height":71,"mark":{"type":"rect","clip":true},"encoding":{"x":{"field":"x","type":"quantitative","bin":{"binned":true,"step":0.0915},"scale":{"domain":[-0.5,0.5],"nice":false,"zero":false},"axis":{"values":[-0.4,-0.2,0,0.2,0.4],"labelExpr":"abs(datum.value)==0.2?'':datum.label","title":null}},"y":{"field":"y","type":"quantitative","bin":{"binned":true,"step":0.0915},"scale":{"domain":[-0.5,0.5],"nice":false,"zero":false},"axis":{"values":[-0.5,0,0.5],"title":null}},"color":{"field":"v","type":"quantitative","scale":{"type":"linear","domain":[-0.307,-0.2339,-0.1608,-0.112],"range":["#0b0000","#ff0000","#ffff00","#ffffff"],"interpolate":"rgb","clamp":true}}}},
{"title":"Jul","data":{"name":"Jul"},"width":56,"height":71,"mark":{"type":"rect","clip":true},"encoding":{"x":{"field":"x","type":"quantitative","bin":{"binned":true,"step":0.0915},"scale":{"domain":[-0.5,0.5],"nice":false,"zero":false},"axis":{"values":[-0.4,-0.2,0,0.2,0.4],"labelExpr":"abs(datum.value)==0.2?'':datum.label","title":null}},"y":{"field":"y","type":"quantitative","bin":{"binned":true,"step":0.0915},"scale":{"domain":[-0.5,0.5],"nice":false,"zero":false},"axis":{"values":[-0.5,0,0.5],"title":null}},"color":{"field":"v","type":"quantitative","scale":{"type":"linear","domain":[-0.307,-0.2339,-0.1608,-0.112],"range":["#0b0000","#ff0000","#ffff00","#ffffff"],"interpolate":"rgb","clamp":true}}}},
{"title":"Aug","data":{"name":"Aug"},"width":56,"height":71,"mark":{"type":"rect","clip":true},"encoding":{"x":{"field":"x","type":"quantitative","bin":{"binned":true,"step":0.0915},"scale":{"domain":[-0.5,0.5],"nice":false,"zero":false},"axis":{"values":[-0.4,-0.2,0,0.2,0.4],"labelExpr":"abs(datum.value)==0.2?'':datum.label","title":null}},"y":{"field":"y","type":"quantitative","bin":{"binned":true,"step":0.0915},"scale":{"domain":[-0.5,0.5],"nice":false,"zero":false},"axis":{"values":[-0.5,0,0.5],"title":null}},"color":{"field":"v","type":"quantitative","scale":{"type":"linear","domain":[-0.307,-0.2339,-0.1608,-0.112],"range":["#0b0000","#ff0000","#ffff00","#ffffff"],"interpolate":"rgb","clamp":true}}}},
{"title":"Sep","data":{"name":"Sep"},"width":56,"height":71,"mark":{"type":"rect","clip":true},"encoding":{"x":{"field":"x","type":"quantitative","bin":{"binned":true,"step":0.0915},"scale":{"domain":[-0.5,0.5],"nice":false,"zero":false},"axis":{"values":[-0.4,-0.2,0,0.2,0.4],"labelExpr":"abs(datum.value)==0.2?'':datum.label","title":"Relative Longitude"}},"y":{"field":"y","type":"quantitative","bin":{"binned":true,"step":0.0915},"scale":{"domain":[-0.5,0.5],"nice":false,"zero":false},"axis":{"values":[-0.5,0,0.5],"title":"Relative Latitude"}},"color":{"field":"v","type":"quantitative","scale":{"type":"linear","domain":[-0.307,-0.2339,-0.1608,-0.112],"range":["#0b0000","#ff0000","#ffff00","#ffffff"],"interpolate":"rgb","clamp":true}}}},
{"title":"Oct","data":{"name":"Oct"},"width":56,"height":71,"mark":{"type":"rect","clip":true},"encoding":{"x":{"field":"x","type":"quantitative","bin":{"binned":true,"step":0.0915},"scale":{"domain":[-0.5,0.5],"nice":false,"zero":false},"axis":{"values":[-0.4,-0.2,0,0.2,0.4],"labelExpr":"abs(datum.value)==0.2?'':datum.label","title":null}},"y":{"field":"y","type":"quantitative","bin":{"binned":true,"step":0.0915},"scale":{"domain":[-0.5,0.5],"nice":false,"zero":false},"axis":{"values":[-0.5,0,0.5],"title":null}},"color":{"field":"v","type":"quantitative","scale":{"type":"linear","domain":[-0.307,-0.2339,-0.1608,-0.112],"range":["#0b0000","#ff0000","#ffff00","#ffffff"],"interpolate":"rgb","clamp":true}}}},
{"title":"Nov","data":{"name":"Nov"},"width":56,"height":71,"mark":{"type":"rect","clip":true},"encoding":{"x":{"field":"x","type":"quantitative","bin":{"binned":true,"step":0.0915},"scale":{"domain":[-0.5,0.5],"nice":false,"zero":false},"axis":{"values":[-0.4,-0.2,0,0.2,0.4],"labelExpr":"abs(datum.value)==0.2?'':datum.label","title":null}},"y":{"field":"y","type":"quantitative","bin":{"binned":true,"step":0.0915},"scale":{"domain":[-0.5,0.5],"nice":false,"zero":false},"axis":{"values":[-0.5,0,0.5],"title":null}},"color":{"field":"v","type":"quantitative","scale":{"type":"linear","domain":[-0.307,-0.2339,-0.1608,-0.112],"range":["#0b0000","#ff0000","#ffff00","#ffffff"],"interpolate":"rgb","clamp":true}}}},
{"title":"Dec","data":{"name":"Dec"},"width":56,"height":71,"mark":{"type":"rect","clip":true},"encoding":{"x":{"field":"x","type":"quantitative","bin":{"binned":true,"step":0.0915},"scale":{"domain":[-0.5,0.5],"nice":false,"zero":false},"axis":{"values":[-0.4,-0.2,0,0.2,0.4],"labelExpr":"abs(datum.value)==0.2?'':datum.label","title":null}},"y":{"field":"y","type":"quantitative","bin":{"binned":true,"step":0.0915},"scale":{"domain":[-0.5,0.5],"nice":false,"zero":false},"axis":{"values":[-0.5,0,0.5],"title":null}},"color":{"field":"v","type":"quantitative","scale":{"type":"linear","domain":[-0.307,-0.2339,-0.1608,-0.112],"range":["#0b0000","#ff0000","#ffff00","#ffffff"],"interpolate":"rgb","clamp":true}}}}
]}
]
}
